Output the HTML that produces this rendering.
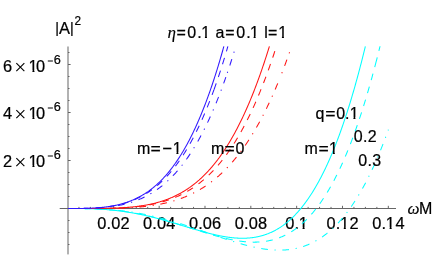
<!DOCTYPE html>
<html><head><meta charset="utf-8"><title>plot</title>
<style>
html,body{margin:0;padding:0;background:#fff;}
svg{display:block;font-family:"Liberation Sans",sans-serif;}
</style></head>
<body>
<svg width="436" height="270" viewBox="0 0 436 270">
<defs>
<clipPath id="c0"><path d="M297.75 210.96H315.15V227.00H304.62V230H302.57V227.00H297.75Z"/></clipPath>
<clipPath id="c1"><path d="M338.96 210.96H356.36V227.00H345.83V230H343.78V227.00H338.96Z"/></clipPath>
<clipPath id="c2"><path d="M384.79 210.96H402.19V227.00H391.66V230H389.61V227.00H384.79Z"/></clipPath>
<clipPath id="c3"><path d="M27.60 53.96H45.00V70.00H34.47V73H32.42V70.00H27.60Z"/></clipPath>
<clipPath id="c4"><path d="M27.60 100.96H45.00V117.00H34.47V120H32.42V117.00H27.60Z"/></clipPath>
<clipPath id="c5"><path d="M27.60 148.96H45.00V165.00H34.47V168H32.42V165.00H27.60Z"/></clipPath>
<clipPath id="c6"><path d="M348.70 101.40H365.70V117.00H355.44V120H353.42V117.00H348.70Z"/></clipPath>
<clipPath id="c7"><path d="M171.70 136.40H188.70V152.00H178.44V155H176.42V152.00H171.70Z"/></clipPath>
<clipPath id="c8"><path d="M328.10 136.40H345.10V152.00H334.84V155H332.82V152.00H328.10Z"/></clipPath>
<clipPath id="c9"><path d="M200.20 20.40H217.20V36.00H206.94V39H204.92V36.00H200.20Z"/></clipPath>
<clipPath id="c10"><path d="M248.90 20.40H265.90V36.00H255.64V39H253.62V36.00H248.90Z"/></clipPath>
<clipPath id="c11"><path d="M277.20 20.40H294.20V36.00H283.94V39H281.92V36.00H277.20Z"/></clipPath>
</defs>
<rect width="436" height="270" fill="#ffffff"/>
<g>
<rect x="59.7" y="208" width="336.3" height="1" fill="#666"/>
<rect x="67.5" y="46.5" width="1" height="207.9" fill="#666"/>
<rect x="78.46" y="206.9" width="1" height="1.6" fill="#666"/>
<rect x="89.91" y="206.9" width="1" height="1.6" fill="#666"/>
<rect x="101.37" y="206.9" width="1" height="1.6" fill="#666"/>
<rect x="112.83" y="205.8" width="1" height="2.7" fill="#666"/>
<rect x="124.29" y="206.9" width="1" height="1.6" fill="#666"/>
<rect x="135.75" y="206.9" width="1" height="1.6" fill="#666"/>
<rect x="147.20" y="206.9" width="1" height="1.6" fill="#666"/>
<rect x="158.66" y="205.8" width="1" height="2.7" fill="#666"/>
<rect x="170.12" y="206.9" width="1" height="1.6" fill="#666"/>
<rect x="181.57" y="206.9" width="1" height="1.6" fill="#666"/>
<rect x="193.03" y="206.9" width="1" height="1.6" fill="#666"/>
<rect x="204.49" y="205.8" width="1" height="2.7" fill="#666"/>
<rect x="215.95" y="206.9" width="1" height="1.6" fill="#666"/>
<rect x="227.41" y="206.9" width="1" height="1.6" fill="#666"/>
<rect x="238.86" y="206.9" width="1" height="1.6" fill="#666"/>
<rect x="250.32" y="205.8" width="1" height="2.7" fill="#666"/>
<rect x="261.78" y="206.9" width="1" height="1.6" fill="#666"/>
<rect x="273.24" y="206.9" width="1" height="1.6" fill="#666"/>
<rect x="284.69" y="206.9" width="1" height="1.6" fill="#666"/>
<rect x="296.15" y="205.8" width="1" height="2.7" fill="#666"/>
<rect x="307.61" y="206.9" width="1" height="1.6" fill="#666"/>
<rect x="319.06" y="206.9" width="1" height="1.6" fill="#666"/>
<rect x="330.52" y="206.9" width="1" height="1.6" fill="#666"/>
<rect x="341.98" y="205.8" width="1" height="2.7" fill="#666"/>
<rect x="353.44" y="206.9" width="1" height="1.6" fill="#666"/>
<rect x="364.89" y="206.9" width="1" height="1.6" fill="#666"/>
<rect x="376.35" y="206.9" width="1" height="1.6" fill="#666"/>
<rect x="387.81" y="205.8" width="1" height="2.7" fill="#666"/>
<rect x="68" y="244.00" width="1.5" height="1" fill="#666"/>
<rect x="68" y="232.00" width="1.5" height="1" fill="#666"/>
<rect x="68" y="220.00" width="1.5" height="1" fill="#666"/>
<rect x="68" y="196.00" width="1.5" height="1" fill="#666"/>
<rect x="68" y="184.00" width="1.5" height="1" fill="#666"/>
<rect x="68" y="172.00" width="1.5" height="1" fill="#666"/>
<rect x="68" y="160.00" width="2.6" height="1" fill="#666"/>
<rect x="68" y="148.00" width="1.5" height="1" fill="#666"/>
<rect x="68" y="136.00" width="1.5" height="1" fill="#666"/>
<rect x="68" y="124.00" width="1.5" height="1" fill="#666"/>
<rect x="68" y="112.00" width="2.6" height="1" fill="#666"/>
<rect x="68" y="100.00" width="1.5" height="1" fill="#666"/>
<rect x="68" y="88.00" width="1.5" height="1" fill="#666"/>
<rect x="68" y="76.00" width="1.5" height="1" fill="#666"/>
<rect x="68" y="64.00" width="2.6" height="1" fill="#666"/>
<rect x="68" y="52.00" width="1.5" height="1" fill="#666"/>
</g>
<g fill="#000" stroke="#000" stroke-width="0.22" style="will-change:transform">
<text x="97.29 106.53 111.21 120.45" y="229" font-size="16.4" transform="matrix(1 0 0 1.035 0 -8.015)">0.02</text>
<text x="143.12 152.36 157.04 166.28" y="229" font-size="16.4" transform="matrix(1 0 0 1.035 0 -8.015)">0.04</text>
<text x="188.95 198.19 202.87 212.11" y="229" font-size="16.4" transform="matrix(1 0 0 1.035 0 -8.015)">0.06</text>
<text x="234.78 244.02 248.70 257.94" y="229" font-size="16.4" transform="matrix(1 0 0 1.035 0 -8.015)">0.08</text>
<text x="285.23 294.47" y="229" font-size="16.4" transform="matrix(1 0 0 1.035 0 -8.015)">0.</text>
<g clip-path="url(#c0)"><text x="298.75" y="229.0" font-size="16.4" transform="matrix(1 0 0 1.035 0 -8.015)">1</text></g>
<text x="326.44 335.68 349.60" y="229" font-size="16.4" transform="matrix(1 0 0 1.035 0 -8.015)">0.2</text>
<g clip-path="url(#c1)"><text x="339.96" y="229.0" font-size="16.4" transform="matrix(1 0 0 1.035 0 -8.015)">1</text></g>
<text x="372.27 381.51 395.43" y="229" font-size="16.4" transform="matrix(1 0 0 1.035 0 -8.015)">0.4</text>
<g clip-path="url(#c2)"><text x="385.79" y="229.0" font-size="16.4" transform="matrix(1 0 0 1.035 0 -8.015)">1</text></g>
<text x="3.00" y="72" font-size="16.4" transform="matrix(1 0 0 1.035 0 -2.520)">6</text>
<path d="M16.35 63.20L24.35 71.20M16.35 71.20L24.35 63.20" stroke="#000" stroke-width="1.1" fill="none"/>
<text x="36.00" y="72" font-size="16.4" transform="matrix(1 0 0 1.035 0 -2.520)">0</text>
<g clip-path="url(#c3)"><text x="28.60" y="72.0" font-size="16.4" transform="matrix(1 0 0 1.035 0 -2.520)">1</text></g>
<rect x="47.8" y="60.50" width="5.1" height="1" fill="#000" stroke="none"/>
<text x="53.70" y="64" font-size="12.7" transform="matrix(1 0 0 1.035 0 -2.240)">6</text>
<text x="3.00" y="119" font-size="16.4" transform="matrix(1 0 0 1.035 0 -4.165)">4</text>
<path d="M16.35 110.20L24.35 118.20M16.35 118.20L24.35 110.20" stroke="#000" stroke-width="1.1" fill="none"/>
<text x="36.00" y="119" font-size="16.4" transform="matrix(1 0 0 1.035 0 -4.165)">0</text>
<g clip-path="url(#c4)"><text x="28.60" y="119.0" font-size="16.4" transform="matrix(1 0 0 1.035 0 -4.165)">1</text></g>
<rect x="47.8" y="107.50" width="5.1" height="1" fill="#000" stroke="none"/>
<text x="53.70" y="111" font-size="12.7" transform="matrix(1 0 0 1.035 0 -3.885)">6</text>
<text x="3.00" y="167" font-size="16.4" transform="matrix(1 0 0 1.035 0 -5.845)">2</text>
<path d="M16.35 158.20L24.35 166.20M16.35 166.20L24.35 158.20" stroke="#000" stroke-width="1.1" fill="none"/>
<text x="36.00" y="167" font-size="16.4" transform="matrix(1 0 0 1.035 0 -5.845)">0</text>
<g clip-path="url(#c5)"><text x="28.60" y="167.0" font-size="16.4" transform="matrix(1 0 0 1.035 0 -5.845)">1</text></g>
<rect x="47.8" y="155.50" width="5.1" height="1" fill="#000" stroke="none"/>
<text x="53.70" y="159" font-size="12.7" transform="matrix(1 0 0 1.035 0 -5.565)">6</text>
</g>
<g fill="none" stroke-width="1.05" stroke-linecap="butt" stroke-linejoin="round">
<path d="M68.00 208.50 L68.50 208.50 L69.00 208.50 L69.50 208.50 L70.00 208.50 L70.50 208.50 L71.00 208.50 L71.50 208.50 L72.00 208.50 L72.50 208.50 L73.00 208.50 L73.50 208.50 L74.00 208.51 L74.50 208.51 L75.00 208.51 L75.50 208.51 L76.00 208.51 L76.50 208.52 L77.00 208.52 L77.50 208.52 L78.00 208.53 L78.50 208.53 L79.00 208.53 L79.50 208.54 L80.00 208.54 L80.50 208.55 L81.00 208.55 L81.50 208.56 L82.00 208.56 L82.50 208.57 L83.00 208.58 L83.50 208.59 L84.00 208.59 L84.50 208.60 L85.00 208.61 L85.50 208.62 L86.00 208.63 L86.50 208.64 L87.00 208.65 L87.50 208.66 L88.00 208.68 L88.50 208.69 L89.00 208.70 L89.50 208.72 L90.00 208.73 L90.50 208.75 L91.00 208.76 L91.50 208.78 L92.00 208.80 L92.50 208.81 L93.00 208.83 L93.50 208.85 L94.00 208.87 L94.50 208.89 L95.00 208.91 L95.50 208.93 L96.00 208.96 L96.50 208.98 L97.00 209.00 L97.50 209.03 L98.00 209.05 L98.50 209.08 L99.00 209.11 L99.50 209.13 L100.00 209.16 L100.50 209.19 L101.00 209.22 L101.50 209.25 L102.00 209.28 L102.50 209.31 L103.00 209.35 L103.50 209.38 L104.00 209.42 L104.50 209.45 L105.00 209.49 L105.50 209.53 L106.00 209.56 L106.50 209.60 L107.00 209.64 L107.50 209.68 L108.00 209.73 L108.50 209.77 L109.00 209.81 L109.50 209.86 L110.00 209.90 L110.50 209.95 L111.00 209.99 L111.50 210.04 L112.00 210.09 L112.50 210.14 L113.00 210.19 L113.50 210.24 L114.00 210.30 L114.50 210.35 L115.00 210.40 L115.50 210.46 L116.00 210.52 L116.50 210.57 L117.00 210.63 L117.50 210.69 L118.00 210.75 L118.50 210.81 L119.00 210.87 L119.50 210.94 L120.00 211.00 L120.50 211.07 L121.00 211.13 L121.50 211.20 L122.00 211.27 L122.50 211.33 L123.00 211.40 L123.50 211.47 L124.00 211.55 L124.50 211.62 L125.00 211.69 L125.50 211.77 L126.00 211.84 L126.50 211.92 L127.00 212.00 L127.50 212.08 L128.00 212.15 L128.50 212.24 L129.00 212.32 L129.50 212.40 L130.00 212.48 L130.50 212.57 L131.00 212.65 L131.50 212.74 L132.00 212.82 L132.50 212.91 L133.00 213.00 L133.50 213.09 L134.00 213.18 L134.50 213.27 L135.00 213.37 L135.50 213.46 L136.00 213.56 L136.50 213.65 L137.00 213.75 L137.50 213.85 L138.00 213.94 L138.50 214.04 L139.00 214.14 L139.50 214.25 L140.00 214.35 L140.50 214.45 L141.00 214.55 L141.50 214.66 L142.00 214.77 L142.50 214.87 L143.00 214.98 L143.50 215.09 L144.00 215.20 L144.50 215.31 L145.00 215.42 L145.50 215.53 L146.00 215.64 L146.50 215.76 L147.00 215.87 L147.50 215.99 L148.00 216.10 L148.50 216.22 L149.00 216.34 L149.50 216.46 L150.00 216.58 L150.50 216.70 L151.00 216.82 L151.50 216.94 L152.00 217.06 L152.50 217.19 L153.00 217.31 L153.50 217.44 L154.00 217.56 L154.50 217.69 L155.00 217.81 L155.50 217.94 L156.00 218.07 L156.50 218.20 L157.00 218.33 L157.50 218.46 L158.00 218.59 L158.50 218.72 L159.00 218.86 L159.50 218.99 L160.00 219.13 L160.50 219.26 L161.00 219.40 L161.50 219.53 L162.00 219.67 L162.50 219.80 L163.00 219.94 L163.50 220.08 L164.00 220.22 L164.50 220.36 L165.00 220.50 L165.50 220.64 L166.00 220.78 L166.50 220.92 L167.00 221.06 L167.50 221.21 L168.00 221.35 L168.50 221.49 L169.00 221.64 L169.50 221.78 L170.00 221.93 L170.50 222.07 L171.00 222.22 L171.50 222.36 L172.00 222.51 L172.50 222.66 L173.00 222.80 L173.50 222.95 L174.00 223.10 L174.50 223.25 L175.00 223.39 L175.50 223.54 L176.00 223.69 L176.50 223.84 L177.00 223.99 L177.50 224.14 L178.00 224.29 L178.50 224.44 L179.00 224.59 L179.50 224.74 L180.00 224.89 L180.50 225.04 L181.00 225.19 L181.50 225.34 L182.00 225.49 L182.50 225.64 L183.00 225.80 L183.50 225.95 L184.00 226.10 L184.50 226.25 L185.00 226.40 L185.50 226.55 L186.00 226.70 L186.50 226.85 L187.00 227.00 L187.50 227.15 L188.00 227.30 L188.50 227.45 L189.00 227.61 L189.50 227.76 L190.00 227.91 L190.50 228.06 L191.00 228.20 L191.50 228.35 L192.00 228.50 L192.50 228.65 L193.00 228.80 L193.50 228.95 L194.00 229.10 L194.50 229.24 L195.00 229.39 L195.50 229.54 L196.00 229.68 L196.50 229.83 L197.00 229.97 L197.50 230.12 L198.00 230.26 L198.50 230.41 L199.00 230.55 L199.50 230.69 L200.00 230.84 L200.50 230.98 L201.00 231.12 L201.50 231.26 L202.00 231.40 L202.50 231.54 L203.00 231.68 L203.50 231.81 L204.00 231.95 L204.50 232.09 L205.00 232.22 L205.50 232.36 L206.00 232.49 L206.50 232.62 L207.00 232.75 L207.50 232.88 L208.00 233.01 L208.50 233.14 L209.00 233.27 L209.50 233.40 L210.00 233.52 L210.50 233.65 L211.00 233.77 L211.50 233.90 L212.00 234.02 L212.50 234.14 L213.00 234.26 L213.50 234.38 L214.00 234.49 L214.50 234.61 L215.00 234.72 L215.50 234.84 L216.00 234.95 L216.50 235.06 L217.00 235.17 L217.50 235.27 L218.00 235.38 L218.50 235.49 L219.00 235.59 L219.50 235.69 L220.00 235.79 L220.50 235.89 L221.00 235.99 L221.50 236.08 L222.00 236.18 L222.50 236.27 L223.00 236.36 L223.50 236.45 L224.00 236.53 L224.50 236.62 L225.00 236.70 L225.50 236.78 L226.00 236.86 L226.50 236.94 L227.00 237.02 L227.50 237.09 L228.00 237.16 L228.50 237.23 L229.00 237.30 L229.50 237.37 L230.00 237.43 L230.50 237.49 L231.00 237.55 L231.50 237.61 L232.00 237.66 L232.50 237.72 L233.00 237.77 L233.50 237.81 L234.00 237.86 L234.50 237.90 L235.00 237.94 L235.50 237.98 L236.00 238.02 L236.50 238.05 L237.00 238.08 L237.50 238.11 L238.00 238.14 L238.50 238.16 L239.00 238.18 L239.50 238.20 L240.00 238.22 L240.50 238.23 L241.00 238.24 L241.50 238.25 L242.00 238.25 L242.50 238.25 L243.00 238.25 L243.50 238.25 L244.00 238.24 L244.50 238.23 L245.00 238.21 L245.50 238.20 L246.00 238.18 L246.50 238.15 L247.00 238.13 L247.50 238.10 L248.00 238.07 L248.50 238.03 L249.00 237.99 L249.50 237.95 L250.00 237.90 L250.50 237.85 L251.00 237.80 L251.50 237.74 L252.00 237.68 L252.50 237.62 L253.00 237.55 L253.50 237.48 L254.00 237.41 L254.50 237.33 L255.00 237.25 L255.50 237.16 L256.00 237.07 L256.50 236.98 L257.00 236.88 L257.50 236.78 L258.00 236.67 L258.50 236.56 L259.00 236.45 L259.50 236.33 L260.00 236.21 L260.50 236.09 L261.00 235.96 L261.50 235.82 L262.00 235.68 L262.50 235.54 L263.00 235.39 L263.50 235.24 L264.00 235.09 L264.50 234.93 L265.00 234.76 L265.50 234.59 L266.00 234.42 L266.50 234.24 L267.00 234.06 L267.50 233.87 L268.00 233.67 L268.50 233.48 L269.00 233.27 L269.50 233.07 L270.00 232.85 L270.50 232.64 L271.00 232.42 L271.50 232.19 L272.00 231.96 L272.50 231.72 L273.00 231.48 L273.50 231.23 L274.00 230.97 L274.50 230.72 L275.00 230.45 L275.50 230.18 L276.00 229.91 L276.50 229.63 L277.00 229.34 L277.50 229.05 L278.00 228.75 L278.50 228.45 L279.00 228.14 L279.50 227.83 L280.00 227.51 L280.50 227.19 L281.00 226.85 L281.50 226.52 L282.00 226.17 L282.50 225.83 L283.00 225.47 L283.50 225.11 L284.00 224.74 L284.50 224.37 L285.00 223.99 L285.50 223.60 L286.00 223.21 L286.50 222.81 L287.00 222.41 L287.50 222.00 L288.00 221.58 L288.50 221.15 L289.00 220.72 L289.50 220.28 L290.00 219.84 L290.50 219.39 L291.00 218.93 L291.50 218.47 L292.00 218.00 L292.50 217.52 L293.00 217.03 L293.50 216.54 L294.00 216.04 L294.50 215.53 L295.00 215.02 L295.50 214.50 L296.00 213.97 L296.50 213.44 L297.00 212.89 L297.50 212.34 L298.00 211.79 L298.50 211.22 L299.00 210.65 L299.50 210.07 L300.00 209.48 L300.50 208.88 L301.00 208.28 L301.50 207.67 L302.00 207.05 L302.50 206.43 L303.00 205.79 L303.50 205.15 L304.00 204.50 L304.50 203.84 L305.00 203.17 L305.50 202.50 L306.00 201.81 L306.50 201.12 L307.00 200.42 L307.50 199.71 L308.00 199.00 L308.50 198.27 L309.00 197.54 L309.50 196.80 L310.00 196.04 L310.50 195.28 L311.00 194.52 L311.50 193.74 L312.00 192.95 L312.50 192.16 L313.00 191.35 L313.50 190.54 L314.00 189.72 L314.50 188.89 L315.00 188.05 L315.50 187.20 L316.00 186.34 L316.50 185.47 L317.00 184.59 L317.50 183.70 L318.00 182.81 L318.50 181.90 L319.00 180.99 L319.50 180.06 L320.00 179.12 L320.50 178.18 L321.00 177.22 L321.50 176.26 L322.00 175.28 L322.50 174.30 L323.00 173.30 L323.50 172.30 L324.00 171.28 L324.50 170.26 L325.00 169.22 L325.50 168.18 L326.00 167.12 L326.50 166.05 L327.00 164.98 L327.50 163.89 L328.00 162.79 L328.50 161.68 L329.00 160.56 L329.50 159.43 L330.00 158.29 L330.50 157.14 L331.00 155.97 L331.50 154.80 L332.00 153.61 L332.50 152.41 L333.00 151.21 L333.50 149.99 L334.00 148.76 L334.50 147.51 L335.00 146.26 L335.50 145.00 L336.00 143.72 L336.50 142.43 L337.00 141.13 L337.50 139.82 L338.00 138.50 L338.50 137.16 L339.00 135.81 L339.50 134.45 L340.00 133.08 L340.50 131.70 L341.00 130.30 L341.50 128.89 L342.00 127.47 L342.50 126.04 L343.00 124.60 L343.50 123.14 L344.00 121.67 L344.50 120.19 L345.00 118.69 L345.50 117.18 L346.00 115.66 L346.50 114.13 L347.00 112.58 L347.50 111.02 L348.00 109.45 L348.50 107.86 L349.00 106.26 L349.50 104.65 L350.00 103.03 L350.50 101.39 L351.00 99.74 L351.50 98.07 L352.00 96.39 L352.50 94.70 L353.00 92.99 L353.50 91.27 L354.00 89.54 L354.50 87.79 L355.00 86.03 L355.50 84.25 L356.00 82.46 L356.50 80.66 L357.00 78.84 L357.50 77.01 L358.00 75.16 L358.50 73.30 L359.00 71.42 L359.50 69.53 L360.00 67.63 L360.50 65.71 L361.00 63.77 L361.50 61.82 L362.00 59.86 L362.50 57.88 L363.00 55.88 L363.50 53.88 L364.00 51.85 L364.50 49.81 L365.00 47.76 L365.35 46.30" stroke="#00ffff"/>
<path d="M68.50 208.50 L69.00 208.50 L69.50 208.50 L70.00 208.50 L70.50 208.50 L71.00 208.50 L71.50 208.50 L72.00 208.50 L72.50 208.50 L73.00 208.50 L73.50 208.50 L74.00 208.51 L74.50 208.51 L75.00 208.51 L75.50 208.51 L76.00 208.51 L76.50 208.52 L77.00 208.52 L77.50 208.52 L78.00 208.52 L78.50 208.53 L79.00 208.53 L79.50 208.53 L80.00 208.54 L80.50 208.54 L81.00 208.55 L81.50 208.55 L82.00 208.56 L82.50 208.57 L83.00 208.57 L83.50 208.58 L84.00 208.59 L84.50 208.60 L85.00 208.60 L85.50 208.61 L86.00 208.62 L86.50 208.63 L87.00 208.64 L87.50 208.65 L88.00 208.67 L88.50 208.68 L89.00 208.69 L89.50 208.70 L90.00 208.72 L90.50 208.73 L91.00 208.75 L91.50 208.76 L92.00 208.78 L92.50 208.79 L93.00 208.81 L93.50 208.83 L94.00 208.85 L94.50 208.87 L95.00 208.89 L95.50 208.91 L96.00 208.93 L96.50 208.95 L97.00 208.97 L97.50 209.00 L98.00 209.02 L98.50 209.05 L99.00 209.07 L99.50 209.10 L100.00 209.12 L100.50 209.15 L101.00 209.18 L101.50 209.21 L102.00 209.24 L102.50 209.27 L103.00 209.30 L103.50 209.33 L104.00 209.37 L104.50 209.40 L105.00 209.43 L105.50 209.47 L106.00 209.51 L106.50 209.54 L107.00 209.58 L107.50 209.62 L108.00 209.66 L108.50 209.70 L109.00 209.74 L109.50 209.78 L110.00 209.83 L110.50 209.87 L111.00 209.92 L111.50 209.96 L112.00 210.01 L112.50 210.06 L113.00 210.10 L113.50 210.15 L114.00 210.20 L114.50 210.25 L115.00 210.31 L115.50 210.36 L116.00 210.41 L116.50 210.47 L117.00 210.52 L117.50 210.58 L118.00 210.64 L118.50 210.70 L119.00 210.76 L119.50 210.82 L120.00 210.88 L120.50 210.94 L121.00 211.00 L121.50 211.07 L122.00 211.13 L122.50 211.20 L123.00 211.26 L123.50 211.33 L124.00 211.40 L124.50 211.47 L125.00 211.54 L125.50 211.61 L126.00 211.69 L126.50 211.76 L127.00 211.83 L127.50 211.91 L128.00 211.99 L128.50 212.06 L129.00 212.14 L129.50 212.22 L130.00 212.30 L130.50 212.38 L131.00 212.47 L131.50 212.55 L132.00 212.63 L132.50 212.72 L133.00 212.81 L133.50 212.89 L134.00 212.98 L134.50 213.07 L135.00 213.16 L135.50 213.25 L136.00 213.34 L136.50 213.44 L137.00 213.53 L137.50 213.62 L138.00 213.72 L138.50 213.82 L139.00 213.91 L139.50 214.01 L140.00 214.11 L140.50 214.21 L141.00 214.32 L141.50 214.42 L142.00 214.52 L142.50 214.63 L143.00 214.73 L143.50 214.84 L144.00 214.94 L144.50 215.05 L145.00 215.16 L145.50 215.27 L146.00 215.38 L146.50 215.49 L147.00 215.60 L147.50 215.72 L148.00 215.83 L148.50 215.95 L149.00 216.06 L149.50 216.18 L150.00 216.30 L150.50 216.42 L151.00 216.54 L151.50 216.66 L152.00 216.78 L152.50 216.90 L153.00 217.02 L153.50 217.15 L154.00 217.27 L154.50 217.40 L155.00 217.52 L155.50 217.65 L156.00 217.78 L156.50 217.90 L157.00 218.03 L157.50 218.16 L158.00 218.29 L158.50 218.43 L159.00 218.56 L159.50 218.69 L160.00 218.83 L160.50 218.96 L161.00 219.10 L161.50 219.23 L162.00 219.37 L162.50 219.51 L163.00 219.64 L163.50 219.78 L164.00 219.92 L164.50 220.06 L165.00 220.20 L165.50 220.34 L166.00 220.49 L166.50 220.63 L167.00 220.77 L167.50 220.92 L168.00 221.06 L168.50 221.21 L169.00 221.35 L169.50 221.50 L170.00 221.65 L170.50 221.79 L171.00 221.94 L171.50 222.09 L172.00 222.24 L172.50 222.39 L173.00 222.54 L173.50 222.69 L174.00 222.84 L174.50 222.99 L175.00 223.14 L175.50 223.30 L176.00 223.45 L176.50 223.60 L177.00 223.76 L177.50 223.91 L178.00 224.07 L178.50 224.22 L179.00 224.38 L179.50 224.53 L180.00 224.69 L180.50 224.84 L181.00 225.00 L181.50 225.16 L182.00 225.32 L182.50 225.47 L183.00 225.63 L183.50 225.79 L184.00 225.95 L184.50 226.11 L185.00 226.26 L185.50 226.42 L186.00 226.58 L186.50 226.74 L187.00 226.90 L187.50 227.06 L188.00 227.22 L188.50 227.38 L189.00 227.54 L189.50 227.70 L190.00 227.86 L190.50 228.02 L191.00 228.18 L191.50 228.34 L192.00 228.50 L192.50 228.66 L193.00 228.82 L193.50 228.98 L194.00 229.14 L194.50 229.30 L195.00 229.46 L195.50 229.62 L196.00 229.78 L196.50 229.94 L197.00 230.10 L197.50 230.26 L198.00 230.42 L198.50 230.58 L199.00 230.74 L199.50 230.90 L200.00 231.06 L200.50 231.21 L201.00 231.37 L201.50 231.53 L202.00 231.69 L202.50 231.84 L203.00 232.00 L203.50 232.15 L204.00 232.31 L204.50 232.46 L205.00 232.62 L205.50 232.77 L206.00 232.93 L206.50 233.08 L207.00 233.23 L207.50 233.39 L208.00 233.54 L208.50 233.69 L209.00 233.84 L209.50 233.99 L210.00 234.14 L210.50 234.29 L211.00 234.44 L211.50 234.58 L212.00 234.73 L212.50 234.88 L213.00 235.02 L213.50 235.16 L214.00 235.31 L214.50 235.45 L215.00 235.59 L215.50 235.73 L216.00 235.87 L216.50 236.01 L217.00 236.15 L217.50 236.29 L218.00 236.43 L218.50 236.56 L219.00 236.70 L219.50 236.83 L220.00 236.96 L220.50 237.09 L221.00 237.22 L221.50 237.35 L222.00 237.48 L222.50 237.61 L223.00 237.73 L223.50 237.86 L224.00 237.98 L224.50 238.10 L225.00 238.22 L225.50 238.34 L226.00 238.46 L226.50 238.58 L227.00 238.69 L227.50 238.81 L228.00 238.92 L228.50 239.03 L229.00 239.14 L229.50 239.25 L230.00 239.35 L230.50 239.46 L231.00 239.56 L231.50 239.66 L232.00 239.76 L232.50 239.86 L233.00 239.96 L233.50 240.05 L234.00 240.15 L234.50 240.24 L235.00 240.33 L235.50 240.42 L236.00 240.50 L236.50 240.59 L237.00 240.67 L237.50 240.75 L238.00 240.83 L238.50 240.90 L239.00 240.98 L239.50 241.05 L240.00 241.12 L240.50 241.19 L241.00 241.26 L241.50 241.32 L242.00 241.38 L242.50 241.44 L243.00 241.50 L243.50 241.56 L244.00 241.61 L244.50 241.66 L245.00 241.71 L245.50 241.76 L246.00 241.80 L246.50 241.84 L247.00 241.88 L247.50 241.92 L248.00 241.95 L248.50 241.98 L249.00 242.01 L249.50 242.04 L250.00 242.06 L250.50 242.08 L251.00 242.10 L251.50 242.11 L252.00 242.13 L252.50 242.14 L253.00 242.14 L253.50 242.15 L254.00 242.15 L254.50 242.15 L255.00 242.14 L255.50 242.14 L256.00 242.13 L256.50 242.11 L257.00 242.10 L257.50 242.08 L258.00 242.06 L258.50 242.03 L259.00 242.00 L259.50 241.97 L260.00 241.93 L260.50 241.89 L261.00 241.85 L261.50 241.81 L262.00 241.76 L262.50 241.71 L263.00 241.65 L263.50 241.59 L264.00 241.53 L264.50 241.46 L265.00 241.39 L265.50 241.32 L266.00 241.24 L266.50 241.16 L267.00 241.08 L267.50 240.99 L268.00 240.90 L268.50 240.80 L269.00 240.70 L269.50 240.60 L270.00 240.49 L270.50 240.38 L271.00 240.27 L271.50 240.15 L272.00 240.02 L272.50 239.90 L273.00 239.77 L273.50 239.63 L274.00 239.49 L274.50 239.35 L275.00 239.20 L275.50 239.04 L276.00 238.89 L276.50 238.73 L277.00 238.56 L277.50 238.39 L278.00 238.21 L278.50 238.04 L279.00 237.85 L279.50 237.66 L280.00 237.47 L280.50 237.27 L281.00 237.07 L281.50 236.86 L282.00 236.65 L282.50 236.43 L283.00 236.21 L283.50 235.98 L284.00 235.75 L284.50 235.52 L285.00 235.27 L285.50 235.03 L286.00 234.77 L286.50 234.52 L287.00 234.26 L287.50 233.99 L288.00 233.72 L288.50 233.44 L289.00 233.15 L289.50 232.87 L290.00 232.57 L290.50 232.27 L291.00 231.97 L291.50 231.66 L292.00 231.34 L292.50 231.02 L293.00 230.69 L293.50 230.36 L294.00 230.02 L294.50 229.67 L295.00 229.32 L295.50 228.97 L296.00 228.60 L296.50 228.24 L297.00 227.86 L297.50 227.48 L298.00 227.09 L298.50 226.70 L299.00 226.30 L299.50 225.90 L300.00 225.49 L300.50 225.07 L301.00 224.65 L301.50 224.22 L302.00 223.78 L302.50 223.34 L303.00 222.89 L303.50 222.43 L304.00 221.97 L304.50 221.50 L305.00 221.02 L305.50 220.54 L306.00 220.05 L306.50 219.56 L307.00 219.05 L307.50 218.54 L308.00 218.03 L308.50 217.50 L309.00 216.97 L309.50 216.43 L310.00 215.89 L310.50 215.34 L311.00 214.78 L311.50 214.21 L312.00 213.64 L312.50 213.06 L313.00 212.47 L313.50 211.87 L314.00 211.27 L314.50 210.66 L315.00 210.04 L315.50 209.41 L316.00 208.78 L316.50 208.14 L317.00 207.49 L317.50 206.83 L318.00 206.16 L318.50 205.49 L319.00 204.81 L319.50 204.12 L320.00 203.42 L320.50 202.72 L321.00 202.01 L321.50 201.28 L322.00 200.55 L322.50 199.82 L323.00 199.07 L323.50 198.32 L324.00 197.55 L324.50 196.78 L325.00 196.00 L325.50 195.21 L326.00 194.42 L326.50 193.61 L327.00 192.80 L327.50 191.97 L328.00 191.14 L328.50 190.30 L329.00 189.45 L329.50 188.59 L330.00 187.72 L330.50 186.85 L331.00 185.96 L331.50 185.06 L332.00 184.16 L332.50 183.25 L333.00 182.32 L333.50 181.39 L334.00 180.45 L334.50 179.50 L335.00 178.54 L335.50 177.57 L336.00 176.59 L336.50 175.60 L337.00 174.60 L337.50 173.59 L338.00 172.57 L338.50 171.54 L339.00 170.50 L339.50 169.45 L340.00 168.39 L340.50 167.33 L341.00 166.25 L341.50 165.16 L342.00 164.06 L342.50 162.95 L343.00 161.83 L343.50 160.70 L344.00 159.56 L344.50 158.41 L345.00 157.24 L345.50 156.07 L346.00 154.89 L346.50 153.69 L347.00 152.49 L347.50 151.27 L348.00 150.05 L348.50 148.81 L349.00 147.56 L349.50 146.30 L350.00 145.03 L350.50 143.75 L351.00 142.46 L351.50 141.15 L352.00 139.84 L352.50 138.51 L353.00 137.17 L353.50 135.82 L354.00 134.46 L354.50 133.08 L355.00 131.70 L355.50 130.30 L356.00 128.90 L356.50 127.47 L357.00 126.04 L357.50 124.60 L358.00 123.14 L358.50 121.67 L359.00 120.19 L359.50 118.70 L360.00 117.20 L360.50 115.68 L361.00 114.15 L361.50 112.61 L362.00 111.06 L362.50 109.49 L363.00 107.91 L363.50 106.32 L364.00 104.71 L364.50 103.10 L365.00 101.47 L365.50 99.82 L366.00 98.17 L366.50 96.50 L367.00 94.82 L367.50 93.12 L368.00 91.41 L368.50 89.69 L369.00 87.96 L369.50 86.21 L370.00 84.45 L370.50 82.67 L371.00 80.88 L371.50 79.08 L372.00 77.27 L372.50 75.44 L373.00 73.59 L373.50 71.74 L374.00 69.87 L374.50 67.98 L375.00 66.08 L375.50 64.17 L375.58 63.86 M375.58 63.86 L376.00 62.24 L376.50 60.30 L377.00 58.35 L377.50 56.38 L378.00 54.39 L378.50 52.39 L379.00 50.38 L379.50 48.35 L380.00 46.31 L380.00 46.30" stroke="#00ffff" stroke-dasharray="6.75 6.7"/>
<path d="M68.00 208.50 L68.50 208.50 L69.00 208.50 L69.50 208.50 L70.00 208.50 L70.50 208.50 L71.00 208.50 L71.50 208.50 L72.00 208.50 L72.50 208.50 L73.00 208.50 L73.50 208.50 L74.00 208.50 L74.50 208.51 L75.00 208.51 L75.50 208.51 L76.00 208.51 L76.50 208.51 L77.00 208.51 L77.50 208.52 L78.00 208.52 L78.50 208.52 L79.00 208.53 L79.50 208.53 L80.00 208.53 L80.50 208.54 L81.00 208.54 L81.50 208.55 L82.00 208.55 L82.50 208.56 L83.00 208.56 L83.50 208.57 L84.00 208.58 L84.50 208.58 L85.00 208.59 L85.50 208.60 L86.00 208.61 L86.50 208.61 L87.00 208.62 L87.50 208.63 L88.00 208.64 L88.50 208.65 L89.00 208.66 L89.50 208.67 L90.00 208.69 L90.50 208.70 L91.00 208.71 L91.50 208.72 L92.00 208.74 L92.50 208.75 L93.00 208.77 L93.50 208.78 L94.00 208.80 L94.50 208.82 L95.00 208.83 L95.50 208.85 L96.00 208.87 L96.50 208.89 L97.00 208.91 L97.50 208.93 L98.00 208.95 L98.50 208.97 L99.00 208.99 L99.50 209.01 L100.00 209.04 L100.50 209.06 L101.00 209.09 L101.50 209.11 L102.00 209.14 L102.50 209.16 L103.00 209.19 L103.50 209.22 L104.00 209.25 L104.50 209.28 L105.00 209.31 L105.50 209.34 L106.00 209.37 L106.50 209.40 L107.00 209.44 L107.50 209.47 L108.00 209.50 L108.50 209.54 L109.00 209.58 L109.50 209.61 L110.00 209.65 L110.50 209.69 L111.00 209.73 L111.50 209.77 L112.00 209.81 L112.50 209.85 L113.00 209.89 L113.50 209.94 L114.00 209.98 L114.50 210.02 L115.00 210.07 L115.50 210.12 L116.00 210.16 L116.50 210.21 L117.00 210.26 L117.50 210.31 L118.00 210.36 L118.50 210.41 L119.00 210.47 L119.50 210.52 L120.00 210.57 L120.50 210.63 L121.00 210.69 L121.50 210.74 L122.00 210.80 L122.50 210.86 L123.00 210.92 L123.50 210.98 L124.00 211.04 L124.50 211.10 L125.00 211.16 L125.50 211.23 L126.00 211.29 L126.50 211.36 L127.00 211.43 L127.50 211.49 L128.00 211.56 L128.50 211.63 L129.00 211.70 L129.50 211.77 L130.00 211.84 L130.50 211.92 L131.00 211.99 L131.50 212.07 L132.00 212.14 L132.50 212.22 L133.00 212.30 L133.50 212.37 L134.00 212.45 L134.50 212.53 L135.00 212.62 L135.50 212.70 L136.00 212.78 L136.50 212.86 L137.00 212.95 L137.50 213.04 L138.00 213.12 L138.50 213.21 L139.00 213.30 L139.50 213.39 L140.00 213.48 L140.50 213.57 L141.00 213.66 L141.50 213.76 L142.00 213.85 L142.50 213.95 L143.00 214.04 L143.50 214.14 L144.00 214.24 L144.50 214.34 L145.00 214.44 L145.50 214.54 L146.00 214.64 L146.50 214.74 L147.00 214.84 L147.50 214.95 L148.00 215.05 L148.50 215.16 L149.00 215.27 L149.50 215.37 L150.00 215.48 L150.50 215.59 L151.00 215.70 L151.50 215.82 L152.00 215.93 L152.50 216.04 L153.00 216.16 L153.50 216.27 L154.00 216.39 L154.50 216.50 L155.00 216.62 L155.50 216.74 L156.00 216.86 L156.50 216.98 L157.00 217.10 L157.50 217.22 L158.00 217.35 L158.50 217.47 L159.00 217.60 L159.50 217.72 L160.00 217.85 L160.50 217.97 L161.00 218.10 L161.50 218.23 L162.00 218.36 L162.50 218.49 L163.00 218.62 L163.50 218.76 L164.00 218.89 L164.50 219.02 L165.00 219.16 L165.50 219.29 L166.00 219.43 L166.50 219.57 L167.00 219.70 L167.50 219.84 L168.00 219.98 L168.50 220.12 L169.00 220.26 L169.50 220.40 L170.00 220.55 L170.50 220.69 L171.00 220.83 L171.50 220.98 L172.00 221.12 L172.50 221.27 L173.00 221.41 L173.50 221.56 L174.00 221.71 L174.50 221.86 L175.00 222.01 L175.50 222.16 L176.00 222.31 L176.50 222.46 L177.00 222.61 L177.50 222.76 L178.00 222.92 L178.50 223.07 L179.00 223.23 L179.50 223.38 L180.00 223.54 L180.50 223.69 L181.00 223.85 L181.50 224.01 L182.00 224.17 L182.50 224.32 L183.00 224.48 L183.50 224.64 L184.00 224.80 L184.50 224.96 L185.00 225.13 L185.50 225.29 L186.00 225.45 L186.50 225.61 L187.00 225.78 L187.50 225.94 L188.00 226.11 L188.50 226.27 L189.00 226.44 L189.50 226.60 L190.00 226.77 L190.50 226.93 L191.00 227.10 L191.50 227.27 L192.00 227.44 L192.50 227.60 L193.00 227.77 L193.50 227.94 L194.00 228.11 L194.50 228.28 L195.00 228.45 L195.50 228.62 L196.00 228.79 L196.50 228.96 L197.00 229.13 L197.50 229.31 L198.00 229.48 L198.50 229.65 L199.00 229.82 L199.50 229.99 L200.00 230.17 L200.50 230.34 L201.00 230.51 L201.50 230.69 L202.00 230.86 L202.50 231.03 L203.00 231.21 L203.50 231.38 L204.00 231.56 L204.50 231.73 L205.00 231.90 L205.50 232.08 L206.00 232.25 L206.50 232.43 L207.00 232.60 L207.50 232.78 L208.00 232.95 L208.50 233.13 L209.00 233.30 L209.50 233.48 L210.00 233.65 L210.50 233.83 L211.00 234.00 L211.50 234.17 L212.00 234.35 L212.50 234.52 L213.00 234.70 L213.50 234.87 L214.00 235.05 L214.50 235.22 L215.00 235.39 L215.50 235.57 L216.00 235.74 L216.50 235.91 L217.00 236.09 L217.50 236.26 L218.00 236.43 L218.50 236.60 L219.00 236.78 L219.50 236.95 L220.00 237.12 L220.50 237.29 L221.00 237.46 L221.50 237.63 L222.00 237.80 L222.50 237.97 L223.00 238.14 L223.50 238.31 L224.00 238.48 L224.50 238.64 L225.00 238.81 L225.50 238.98 L226.00 239.15 L226.50 239.31 L227.00 239.48 L227.50 239.64 L228.00 239.81 L228.50 239.97 L229.00 240.13 L229.50 240.29 L230.00 240.46 L230.50 240.62 L231.00 240.78 L231.50 240.94 L232.00 241.10 L232.50 241.26 L233.00 241.41 L233.50 241.57 L234.00 241.73 L234.50 241.88 L235.00 242.04 L235.50 242.19 L236.00 242.34 L236.50 242.50 L237.00 242.65 L237.50 242.80 L238.00 242.95 L238.50 243.10 L239.00 243.24 L239.50 243.39 L240.00 243.54 L240.50 243.68 L241.00 243.82 L241.50 243.97 L242.00 244.11 L242.50 244.25 L243.00 244.39 L243.50 244.53 L244.00 244.66 L244.50 244.80 L245.00 244.93 L245.50 245.07 L246.00 245.20 L246.50 245.33 L247.00 245.46 L247.50 245.59 L248.00 245.72 L248.50 245.84 L249.00 245.97 L249.50 246.09 L250.00 246.21 L250.50 246.33 L251.00 246.45 L251.50 246.57 L252.00 246.68 L252.50 246.80 L253.00 246.91 L253.50 247.02 L254.00 247.13 L254.50 247.24 L255.00 247.35 L255.50 247.45 L256.00 247.56 L256.50 247.66 L257.00 247.76 L257.50 247.86 L258.00 247.95 L258.50 248.05 L259.00 248.14 L259.50 248.23 L260.00 248.32 L260.50 248.41 L261.00 248.50 L261.50 248.58 L262.00 248.66 L262.50 248.74 L263.00 248.82 L263.50 248.90 L264.00 248.97 L264.50 249.05 L265.00 249.12 L265.50 249.18 L266.00 249.25 L266.50 249.31 L267.00 249.38 L267.50 249.44 L268.00 249.49 L268.50 249.55 L269.00 249.60 L269.50 249.65 L270.00 249.70 L270.50 249.75 L271.00 249.79 L271.50 249.83 L272.00 249.87 L272.50 249.91 L273.00 249.94 L273.50 249.97 L274.00 250.00 L274.50 250.03 L275.00 250.05 L275.50 250.08 L276.00 250.09 L276.50 250.11 L277.00 250.13 L277.50 250.14 L278.00 250.14 L278.50 250.15 L279.00 250.15 L279.50 250.15 L280.00 250.15 L280.50 250.15 L281.00 250.14 L281.50 250.13 L282.00 250.11 L282.50 250.10 L283.00 250.08 L283.50 250.05 L284.00 250.03 L284.50 250.00 L285.00 249.97 L285.50 249.93 L286.00 249.89 L286.50 249.85 L287.00 249.81 L287.50 249.76 L288.00 249.71 L288.50 249.66 L289.00 249.60 L289.50 249.54 L290.00 249.47 L290.50 249.41 L291.00 249.33 L291.50 249.26 L292.00 249.18 L292.50 249.10 L293.00 249.02 L293.50 248.93 L294.00 248.84 L294.50 248.74 L295.00 248.64 L295.50 248.54 L296.00 248.43 L296.50 248.32 L297.00 248.21 L297.50 248.09 L298.00 247.97 L298.50 247.85 L299.00 247.72 L299.50 247.58 L300.00 247.45 L300.50 247.31 L301.00 247.16 L301.50 247.01 L302.00 246.86 L302.50 246.70 L303.00 246.54 L303.50 246.38 L304.00 246.21 L304.50 246.03 L305.00 245.86 L305.50 245.67 L306.00 245.49 L306.50 245.30 L307.00 245.10 L307.50 244.90 L308.00 244.70 L308.50 244.49 L309.00 244.28 L309.50 244.06 L310.00 243.84 L310.50 243.61 L311.00 243.38 L311.50 243.15 L312.00 242.91 L312.50 242.66 L313.00 242.41 L313.50 242.16 L314.00 241.90 L314.50 241.63 L315.00 241.36 L315.50 241.09 L316.00 240.81 L316.50 240.53 L317.00 240.24 L317.50 239.95 L318.00 239.65 L318.50 239.34 L319.00 239.03 L319.50 238.72 L320.00 238.40 L320.50 238.08 L321.00 237.75 L321.50 237.41 L322.00 237.07 L322.50 236.73 L323.00 236.37 L323.50 236.02 L324.00 235.66 L324.50 235.29 L325.00 234.91 L325.50 234.54 L326.00 234.15 L326.50 233.76 L327.00 233.37 L327.50 232.96 L328.00 232.56 L328.50 232.14 L329.00 231.73 L329.50 231.30 L330.00 230.87 L330.50 230.43 L331.00 229.99 L331.50 229.54 L332.00 229.09 L332.50 228.63 L333.00 228.16 L333.50 227.69 L334.00 227.21 L334.50 226.73 L335.00 226.23 L335.50 225.74 L336.00 225.23 L336.50 224.72 L337.00 224.21 L337.50 223.68 L338.00 223.15 L338.50 222.62 L339.00 222.07 L339.50 221.52 L340.00 220.97 L340.50 220.41 L341.00 219.84 L341.50 219.26 L342.00 218.68 L342.50 218.09 L343.00 217.49 L343.50 216.89 L344.00 216.28 L344.50 215.66 L345.00 215.04 L345.50 214.41 L346.00 213.77 L346.50 213.12 L347.00 212.47 L347.50 211.81 L348.00 211.14 L348.50 210.47 L349.00 209.79 L349.50 209.10 L350.00 208.40 L350.50 207.70 L351.00 206.99 L351.50 206.27 L352.00 205.54 L352.50 204.81 L353.00 204.07 L353.50 203.32 L354.00 202.56 L354.50 201.80 L355.00 201.03 L355.50 200.24 L356.00 199.46 L356.50 198.66 L357.00 197.86 L357.50 197.05 L358.00 196.23 L358.50 195.40 L359.00 194.56 L359.50 193.72 L360.00 192.86 L360.50 192.00 L361.00 191.14 L361.50 190.26 L362.00 189.37 L362.50 188.48 L363.00 187.58 L363.50 186.67 L364.00 185.75 L364.50 184.82 L365.00 183.88 L365.50 182.94 L366.00 181.98 L366.50 181.02 L367.00 180.05 L367.50 179.07 L368.00 178.08 L368.50 177.08 L369.00 176.07 L369.50 175.06 L370.00 174.03 L370.50 173.00 L371.00 171.95 L371.50 170.90 L372.00 169.84 L372.50 168.77 L373.00 167.69 L373.50 166.60 L374.00 165.50 L374.50 164.39 L375.00 163.28 L375.50 162.15 L376.00 161.01 L376.50 159.86 L377.00 158.71 L377.50 157.54 L378.00 156.37 L378.50 155.18 L379.00 153.99 L379.50 152.78 L380.00 151.57 L380.50 150.34 L381.00 149.11 L381.50 147.86 L382.00 146.61 L382.50 145.34 L383.00 144.07 L383.50 142.78 L384.00 141.49 L384.50 140.18 L385.00 138.86 L385.50 137.54 L386.00 136.20 L386.50 134.85 L387.00 133.49 L387.50 132.12 L388.00 130.74 L388.40 129.63" stroke="#00ffff" stroke-dasharray="1.2 6.65 6.7 6.65"/>
<path d="M68.00 208.50 L68.50 208.50 L69.00 208.50 L69.50 208.50 L70.00 208.50 L70.50 208.50 L71.00 208.50 L71.50 208.50 L72.00 208.50 L72.50 208.50 L73.00 208.50 L73.50 208.50 L74.00 208.50 L74.50 208.50 L75.00 208.50 L75.50 208.50 L76.00 208.50 L76.50 208.50 L77.00 208.50 L77.50 208.50 L78.00 208.50 L78.50 208.50 L79.00 208.50 L79.50 208.50 L80.00 208.50 L80.50 208.50 L81.00 208.50 L81.50 208.50 L82.00 208.50 L82.50 208.50 L83.00 208.50 L83.50 208.50 L84.00 208.50 L84.50 208.50 L85.00 208.50 L85.50 208.50 L86.00 208.49 L86.50 208.49 L87.00 208.49 L87.50 208.49 L88.00 208.49 L88.50 208.49 L89.00 208.49 L89.50 208.49 L90.00 208.48 L90.50 208.48 L91.00 208.48 L91.50 208.48 L92.00 208.48 L92.50 208.48 L93.00 208.47 L93.50 208.47 L94.00 208.47 L94.50 208.46 L95.00 208.46 L95.50 208.46 L96.00 208.46 L96.50 208.45 L97.00 208.45 L97.50 208.44 L98.00 208.44 L98.50 208.43 L99.00 208.43 L99.50 208.42 L100.00 208.42 L100.50 208.41 L101.00 208.41 L101.50 208.40 L102.00 208.40 L102.50 208.39 L103.00 208.38 L103.50 208.37 L104.00 208.37 L104.50 208.36 L105.00 208.35 L105.50 208.34 L106.00 208.33 L106.50 208.32 L107.00 208.31 L107.50 208.30 L108.00 208.29 L108.50 208.28 L109.00 208.27 L109.50 208.25 L110.00 208.24 L110.50 208.23 L111.00 208.21 L111.50 208.20 L112.00 208.18 L112.50 208.17 L113.00 208.15 L113.50 208.14 L114.00 208.12 L114.50 208.10 L115.00 208.08 L115.50 208.06 L116.00 208.04 L116.50 208.02 L117.00 208.00 L117.50 207.98 L118.00 207.96 L118.50 207.94 L119.00 207.91 L119.50 207.89 L120.00 207.86 L120.50 207.84 L121.00 207.81 L121.50 207.78 L122.00 207.75 L122.50 207.73 L123.00 207.70 L123.50 207.66 L124.00 207.63 L124.50 207.60 L125.00 207.57 L125.50 207.53 L126.00 207.50 L126.50 207.46 L127.00 207.42 L127.50 207.38 L128.00 207.34 L128.50 207.30 L129.00 207.26 L129.50 207.22 L130.00 207.18 L130.50 207.13 L131.00 207.09 L131.50 207.04 L132.00 206.99 L132.50 206.94 L133.00 206.89 L133.50 206.84 L134.00 206.78 L134.50 206.73 L135.00 206.67 L135.50 206.62 L136.00 206.56 L136.50 206.50 L137.00 206.44 L137.50 206.38 L138.00 206.31 L138.50 206.25 L139.00 206.18 L139.50 206.11 L140.00 206.04 L140.50 205.97 L141.00 205.90 L141.50 205.82 L142.00 205.75 L142.50 205.67 L143.00 205.59 L143.50 205.51 L144.00 205.43 L144.50 205.35 L145.00 205.26 L145.50 205.17 L146.00 205.08 L146.50 204.99 L147.00 204.90 L147.50 204.81 L148.00 204.71 L148.50 204.61 L149.00 204.51 L149.50 204.41 L150.00 204.30 L150.50 204.20 L151.00 204.09 L151.50 203.98 L152.00 203.87 L152.50 203.75 L153.00 203.64 L153.50 203.52 L154.00 203.40 L154.50 203.28 L155.00 203.15 L155.50 203.02 L156.00 202.89 L156.50 202.76 L157.00 202.63 L157.50 202.49 L158.00 202.35 L158.50 202.21 L159.00 202.07 L159.50 201.92 L160.00 201.78 L160.50 201.62 L161.00 201.47 L161.50 201.32 L162.00 201.16 L162.50 201.00 L163.00 200.83 L163.50 200.67 L164.00 200.50 L164.50 200.32 L165.00 200.15 L165.50 199.97 L166.00 199.79 L166.50 199.61 L167.00 199.42 L167.50 199.24 L168.00 199.04 L168.50 198.85 L169.00 198.65 L169.50 198.45 L170.00 198.25 L170.50 198.04 L171.00 197.83 L171.50 197.62 L172.00 197.40 L172.50 197.18 L173.00 196.96 L173.50 196.73 L174.00 196.50 L174.50 196.27 L175.00 196.04 L175.50 195.80 L176.00 195.55 L176.50 195.31 L177.00 195.06 L177.50 194.81 L178.00 194.55 L178.50 194.29 L179.00 194.02 L179.50 193.76 L180.00 193.49 L180.50 193.21 L181.00 192.93 L181.50 192.65 L182.00 192.36 L182.50 192.07 L183.00 191.78 L183.50 191.48 L184.00 191.18 L184.50 190.87 L185.00 190.56 L185.50 190.25 L186.00 189.93 L186.50 189.61 L187.00 189.28 L187.50 188.95 L188.00 188.62 L188.50 188.28 L189.00 187.93 L189.50 187.59 L190.00 187.23 L190.50 186.88 L191.00 186.51 L191.50 186.15 L192.00 185.78 L192.50 185.40 L193.00 185.02 L193.50 184.64 L194.00 184.25 L194.50 183.86 L195.00 183.46 L195.50 183.06 L196.00 182.65 L196.50 182.24 L197.00 181.82 L197.50 181.40 L198.00 180.97 L198.50 180.53 L199.00 180.10 L199.50 179.65 L200.00 179.21 L200.50 178.75 L201.00 178.29 L201.50 177.83 L202.00 177.36 L202.50 176.89 L203.00 176.41 L203.50 175.92 L204.00 175.43 L204.50 174.93 L205.00 174.43 L205.50 173.92 L206.00 173.41 L206.50 172.89 L207.00 172.37 L207.50 171.84 L208.00 171.30 L208.50 170.76 L209.00 170.21 L209.50 169.66 L210.00 169.10 L210.50 168.53 L211.00 167.96 L211.50 167.38 L212.00 166.80 L212.50 166.21 L213.00 165.61 L213.50 165.01 L214.00 164.40 L214.50 163.78 L215.00 163.16 L215.50 162.53 L216.00 161.90 L216.50 161.25 L217.00 160.61 L217.50 159.95 L218.00 159.29 L218.50 158.62 L219.00 157.94 L219.50 157.26 L220.00 156.57 L220.50 155.88 L221.00 155.18 L221.50 154.47 L222.00 153.75 L222.50 153.02 L223.00 152.29 L223.50 151.56 L224.00 150.81 L224.50 150.06 L225.00 149.30 L225.50 148.53 L226.00 147.75 L226.50 146.97 L227.00 146.18 L227.50 145.38 L228.00 144.58 L228.50 143.77 L229.00 142.95 L229.50 142.12 L230.00 141.28 L230.50 140.44 L231.00 139.58 L231.50 138.72 L232.00 137.86 L232.50 136.98 L233.00 136.10 L233.50 135.20 L234.00 134.30 L234.50 133.39 L235.00 132.48 L235.50 131.55 L236.00 130.62 L236.50 129.67 L237.00 128.72 L237.50 127.76 L238.00 126.80 L238.50 125.82 L239.00 124.83 L239.50 123.84 L240.00 122.84 L240.50 121.82 L241.00 120.80 L241.50 119.77 L242.00 118.73 L242.50 117.69 L243.00 116.63 L243.50 115.56 L244.00 114.49 L244.50 113.40 L245.00 112.31 L245.50 111.20 L246.00 110.09 L246.50 108.97 L247.00 107.83 L247.50 106.69 L248.00 105.54 L248.50 104.38 L249.00 103.21 L249.50 102.02 L250.00 100.83 L250.50 99.63 L251.00 98.42 L251.50 97.20 L252.00 95.97 L252.50 94.73 L253.00 93.48 L253.50 92.21 L254.00 90.94 L254.50 89.66 L255.00 88.36 L255.50 87.06 L256.00 85.75 L256.50 84.42 L257.00 83.09 L257.50 81.74 L258.00 80.38 L258.50 79.01 L259.00 77.63 L259.50 76.24 L260.00 74.84 L260.50 73.43 L261.00 72.01 L261.50 70.57 L262.00 69.13 L262.50 67.67 L263.00 66.20 L263.50 64.72 L264.00 63.23 L264.50 61.73 L265.00 60.21 L265.50 58.68 L266.00 57.15 L266.50 55.60 L267.00 54.03 L267.50 52.46 L268.00 50.87 L268.50 49.28 L269.00 47.67 L269.42 46.30" stroke="#ff1414"/>
<path d="M68.50 208.50 L69.00 208.50 L69.50 208.50 L70.00 208.50 L70.50 208.50 L71.00 208.50 L71.50 208.50 L72.00 208.50 L72.50 208.50 L73.00 208.50 L73.50 208.50 L74.00 208.50 L74.50 208.50 L75.00 208.50 L75.50 208.50 L76.00 208.50 L76.50 208.50 L77.00 208.50 L77.50 208.50 L78.00 208.50 L78.50 208.50 L79.00 208.50 L79.50 208.50 L80.00 208.50 L80.50 208.50 L81.00 208.50 L81.50 208.50 L82.00 208.50 L82.50 208.50 L83.00 208.50 L83.50 208.50 L84.00 208.50 L84.50 208.50 L85.00 208.49 L85.50 208.49 L86.00 208.49 L86.50 208.49 L87.00 208.49 L87.50 208.49 L88.00 208.49 L88.50 208.49 L89.00 208.49 L89.50 208.49 L90.00 208.48 L90.50 208.48 L91.00 208.48 L91.50 208.48 L92.00 208.48 L92.50 208.47 L93.00 208.47 L93.50 208.47 L94.00 208.47 L94.50 208.46 L95.00 208.46 L95.50 208.46 L96.00 208.46 L96.50 208.45 L97.00 208.45 L97.50 208.44 L98.00 208.44 L98.50 208.44 L99.00 208.43 L99.50 208.43 L100.00 208.42 L100.50 208.42 L101.00 208.41 L101.50 208.40 L102.00 208.40 L102.50 208.39 L103.00 208.39 L103.50 208.38 L104.00 208.37 L104.50 208.36 L105.00 208.36 L105.50 208.35 L106.00 208.34 L106.50 208.33 L107.00 208.32 L107.50 208.31 L108.00 208.30 L108.50 208.29 L109.00 208.28 L109.50 208.27 L110.00 208.26 L110.50 208.24 L111.00 208.23 L111.50 208.22 L112.00 208.21 L112.50 208.19 L113.00 208.18 L113.50 208.16 L114.00 208.15 L114.50 208.13 L115.00 208.11 L115.50 208.10 L116.00 208.08 L116.50 208.06 L117.00 208.04 L117.50 208.02 L118.00 208.00 L118.50 207.98 L119.00 207.96 L119.50 207.94 L120.00 207.91 L120.50 207.89 L121.00 207.87 L121.50 207.84 L122.00 207.82 L122.50 207.79 L123.00 207.76 L123.50 207.74 L124.00 207.71 L124.50 207.68 L125.00 207.65 L125.50 207.62 L126.00 207.58 L126.50 207.55 L127.00 207.52 L127.50 207.48 L128.00 207.45 L128.50 207.41 L129.00 207.37 L129.50 207.34 L130.00 207.30 L130.50 207.26 L131.00 207.22 L131.50 207.17 L132.00 207.13 L132.50 207.09 L133.00 207.04 L133.50 207.00 L134.00 206.95 L134.50 206.90 L135.00 206.85 L135.50 206.80 L136.00 206.75 L136.50 206.69 L137.00 206.64 L137.50 206.58 L138.00 206.53 L138.50 206.47 L139.00 206.41 L139.50 206.35 L140.00 206.29 L140.50 206.22 L141.00 206.16 L141.50 206.09 L142.00 206.03 L142.50 205.96 L143.00 205.89 L143.50 205.82 L144.00 205.74 L144.50 205.67 L145.00 205.59 L145.50 205.52 L146.00 205.44 L146.50 205.36 L147.00 205.27 L147.50 205.19 L148.00 205.10 L148.50 205.02 L149.00 204.93 L149.50 204.84 L150.00 204.75 L150.50 204.65 L151.00 204.56 L151.50 204.46 L152.00 204.36 L152.50 204.26 L153.00 204.16 L153.50 204.05 L154.00 203.95 L154.50 203.84 L155.00 203.73 L155.50 203.62 L156.00 203.50 L156.50 203.39 L157.00 203.27 L157.50 203.15 L158.00 203.02 L158.50 202.90 L159.00 202.77 L159.50 202.65 L160.00 202.51 L160.50 202.38 L161.00 202.25 L161.50 202.11 L162.00 201.97 L162.50 201.83 L163.00 201.68 L163.50 201.54 L164.00 201.39 L164.50 201.24 L165.00 201.08 L165.50 200.93 L166.00 200.77 L166.50 200.61 L167.00 200.44 L167.50 200.28 L168.00 200.11 L168.50 199.94 L169.00 199.76 L169.50 199.59 L170.00 199.41 L170.50 199.23 L171.00 199.04 L171.50 198.86 L172.00 198.67 L172.50 198.47 L173.00 198.28 L173.50 198.08 L174.00 197.88 L174.50 197.67 L175.00 197.47 L175.50 197.26 L176.00 197.04 L176.50 196.83 L177.00 196.61 L177.50 196.39 L178.00 196.16 L178.50 195.93 L179.00 195.70 L179.50 195.47 L180.00 195.23 L180.50 194.99 L181.00 194.74 L181.50 194.50 L182.00 194.25 L182.50 193.99 L183.00 193.73 L183.50 193.47 L184.00 193.21 L184.50 192.94 L185.00 192.67 L185.50 192.39 L186.00 192.11 L186.50 191.83 L187.00 191.55 L187.50 191.26 L188.00 190.96 L188.50 190.67 L189.00 190.37 L189.50 190.06 L190.00 189.75 L190.50 189.44 L191.00 189.12 L191.50 188.80 L192.00 188.48 L192.50 188.15 L193.00 187.82 L193.50 187.48 L194.00 187.14 L194.50 186.80 L195.00 186.45 L195.50 186.10 L196.00 185.74 L196.50 185.38 L197.00 185.02 L197.50 184.65 L198.00 184.27 L198.50 183.89 L199.00 183.51 L199.50 183.12 L200.00 182.73 L200.50 182.34 L201.00 181.94 L201.50 181.53 L202.00 181.12 L202.50 180.71 L203.00 180.29 L203.50 179.86 L204.00 179.43 L204.50 179.00 L205.00 178.56 L205.50 178.12 L206.00 177.67 L206.50 177.22 L207.00 176.76 L207.50 176.30 L208.00 175.83 L208.50 175.35 L209.00 174.88 L209.50 174.39 L210.00 173.90 L210.50 173.41 L211.00 172.91 L211.50 172.41 L212.00 171.90 L212.50 171.38 L213.00 170.86 L213.50 170.34 L214.00 169.80 L214.50 169.27 L215.00 168.72 L215.50 168.18 L216.00 167.62 L216.50 167.06 L217.00 166.50 L217.50 165.93 L218.00 165.35 L218.50 164.77 L219.00 164.18 L219.50 163.58 L220.00 162.98 L220.50 162.38 L221.00 161.76 L221.50 161.14 L222.00 160.52 L222.50 159.89 L223.00 159.25 L223.50 158.61 L224.00 157.96 L224.50 157.30 L225.00 156.64 L225.50 155.97 L226.00 155.30 L226.50 154.61 L227.00 153.93 L227.50 153.23 L228.00 152.53 L228.50 151.82 L229.00 151.11 L229.50 150.39 L230.00 149.66 L230.50 148.92 L231.00 148.18 L231.50 147.43 L232.00 146.68 L232.50 145.91 L233.00 145.14 L233.50 144.37 L234.00 143.58 L234.50 142.79 L235.00 141.99 L235.50 141.19 L236.00 140.38 L236.50 139.55 L237.00 138.73 L237.50 137.89 L238.00 137.05 L238.50 136.20 L239.00 135.34 L239.50 134.48 L240.00 133.60 L240.50 132.72 L241.00 131.83 L241.50 130.94 L242.00 130.03 L242.50 129.12 L243.00 128.20 L243.50 127.28 L244.00 126.34 L244.50 125.40 L245.00 124.44 L245.50 123.48 L246.00 122.52 L246.50 121.54 L247.00 120.55 L247.50 119.56 L248.00 118.56 L248.50 117.55 L249.00 116.53 L249.50 115.50 L250.00 114.47 L250.50 113.42 L251.00 112.37 L251.50 111.31 L252.00 110.24 L252.50 109.16 L253.00 108.07 L253.50 106.98 L254.00 105.87 L254.50 104.75 L255.00 103.63 L255.50 102.50 L256.00 101.36 L256.50 100.20 L257.00 99.04 L257.50 97.87 L258.00 96.69 L258.50 95.51 L259.00 94.31 L259.50 93.10 L260.00 91.88 L260.50 90.66 L261.00 89.42 L261.50 88.17 L262.00 86.92 L262.50 85.65 L263.00 84.38 L263.50 83.09 L264.00 81.79 L264.50 80.49 L265.00 79.17 L265.50 77.85 L266.00 76.51 L266.50 75.17 L267.00 73.81 L267.50 72.44 L268.00 71.07 L268.50 69.68 L269.00 68.28 L269.50 66.87 L270.00 65.45 L270.50 64.02 L271.00 62.58 L271.50 61.13 L272.00 59.67 L272.50 58.20 L273.00 56.71 L273.50 55.22 L274.00 53.71 L274.50 52.20 L275.00 50.67 L275.50 49.13 L276.00 47.58 L276.41 46.30" stroke="#ff1414" stroke-dasharray="6.75 6.75"/>
<path d="M68.00 208.50 L68.50 208.50 L69.00 208.50 L69.50 208.50 L70.00 208.50 L70.50 208.50 L71.00 208.50 L71.50 208.50 L72.00 208.50 L72.50 208.50 L73.00 208.50 L73.50 208.50 L74.00 208.50 L74.50 208.50 L75.00 208.50 L75.50 208.50 L76.00 208.50 L76.50 208.50 L77.00 208.50 L77.50 208.50 L78.00 208.50 L78.50 208.50 L79.00 208.50 L79.50 208.50 L80.00 208.50 L80.50 208.50 L81.00 208.50 L81.50 208.50 L82.00 208.50 L82.50 208.50 L83.00 208.50 L83.50 208.50 L84.00 208.50 L84.50 208.50 L85.00 208.50 L85.50 208.50 L86.00 208.50 L86.50 208.50 L87.00 208.50 L87.50 208.50 L88.00 208.50 L88.50 208.50 L89.00 208.49 L89.50 208.49 L90.00 208.49 L90.50 208.49 L91.00 208.49 L91.50 208.49 L92.00 208.49 L92.50 208.49 L93.00 208.49 L93.50 208.48 L94.00 208.48 L94.50 208.48 L95.00 208.48 L95.50 208.48 L96.00 208.48 L96.50 208.47 L97.00 208.47 L97.50 208.47 L98.00 208.47 L98.50 208.46 L99.00 208.46 L99.50 208.46 L100.00 208.45 L100.50 208.45 L101.00 208.45 L101.50 208.44 L102.00 208.44 L102.50 208.44 L103.00 208.43 L103.50 208.43 L104.00 208.42 L104.50 208.42 L105.00 208.41 L105.50 208.41 L106.00 208.40 L106.50 208.39 L107.00 208.39 L107.50 208.38 L108.00 208.38 L108.50 208.37 L109.00 208.36 L109.50 208.35 L110.00 208.35 L110.50 208.34 L111.00 208.33 L111.50 208.32 L112.00 208.31 L112.50 208.30 L113.00 208.29 L113.50 208.28 L114.00 208.27 L114.50 208.26 L115.00 208.25 L115.50 208.24 L116.00 208.22 L116.50 208.21 L117.00 208.20 L117.50 208.18 L118.00 208.17 L118.50 208.16 L119.00 208.14 L119.50 208.13 L120.00 208.11 L120.50 208.09 L121.00 208.08 L121.50 208.06 L122.00 208.04 L122.50 208.02 L123.00 208.00 L123.50 207.98 L124.00 207.96 L124.50 207.94 L125.00 207.92 L125.50 207.90 L126.00 207.88 L126.50 207.86 L127.00 207.83 L127.50 207.81 L128.00 207.78 L128.50 207.76 L129.00 207.73 L129.50 207.70 L130.00 207.67 L130.50 207.65 L131.00 207.62 L131.50 207.59 L132.00 207.56 L132.50 207.53 L133.00 207.49 L133.50 207.46 L134.00 207.43 L134.50 207.39 L135.00 207.36 L135.50 207.32 L136.00 207.28 L136.50 207.24 L137.00 207.21 L137.50 207.17 L138.00 207.12 L138.50 207.08 L139.00 207.04 L139.50 207.00 L140.00 206.95 L140.50 206.91 L141.00 206.86 L141.50 206.81 L142.00 206.76 L142.50 206.71 L143.00 206.66 L143.50 206.61 L144.00 206.56 L144.50 206.51 L145.00 206.45 L145.50 206.39 L146.00 206.34 L146.50 206.28 L147.00 206.22 L147.50 206.16 L148.00 206.10 L148.50 206.03 L149.00 205.97 L149.50 205.90 L150.00 205.84 L150.50 205.77 L151.00 205.70 L151.50 205.63 L152.00 205.55 L152.50 205.48 L153.00 205.41 L153.50 205.33 L154.00 205.25 L154.50 205.17 L155.00 205.09 L155.50 205.01 L156.00 204.93 L156.50 204.84 L157.00 204.76 L157.50 204.67 L158.00 204.58 L158.50 204.49 L159.00 204.39 L159.50 204.30 L160.00 204.20 L160.50 204.11 L161.00 204.01 L161.50 203.91 L162.00 203.80 L162.50 203.70 L163.00 203.59 L163.50 203.49 L164.00 203.38 L164.50 203.26 L165.00 203.15 L165.50 203.04 L166.00 202.92 L166.50 202.80 L167.00 202.68 L167.50 202.56 L168.00 202.43 L168.50 202.31 L169.00 202.18 L169.50 202.05 L170.00 201.92 L170.50 201.78 L171.00 201.65 L171.50 201.51 L172.00 201.37 L172.50 201.23 L173.00 201.08 L173.50 200.94 L174.00 200.79 L174.50 200.64 L175.00 200.48 L175.50 200.33 L176.00 200.17 L176.50 200.01 L177.00 199.85 L177.50 199.68 L178.00 199.52 L178.50 199.35 L179.00 199.18 L179.50 199.00 L180.00 198.83 L180.50 198.65 L181.00 198.47 L181.50 198.28 L182.00 198.10 L182.50 197.91 L183.00 197.72 L183.50 197.52 L184.00 197.32 L184.50 197.13 L185.00 196.92 L185.50 196.72 L186.00 196.51 L186.50 196.30 L187.00 196.09 L187.50 195.87 L188.00 195.66 L188.50 195.43 L189.00 195.21 L189.50 194.98 L190.00 194.75 L190.50 194.52 L191.00 194.29 L191.50 194.05 L192.00 193.81 L192.50 193.56 L193.00 193.32 L193.50 193.06 L194.00 192.81 L194.50 192.55 L195.00 192.29 L195.50 192.03 L196.00 191.77 L196.50 191.50 L197.00 191.22 L197.50 190.95 L198.00 190.67 L198.50 190.39 L199.00 190.10 L199.50 189.81 L200.00 189.52 L200.50 189.22 L201.00 188.92 L201.50 188.62 L202.00 188.31 L202.50 188.00 L203.00 187.69 L203.50 187.37 L204.00 187.05 L204.50 186.73 L205.00 186.40 L205.50 186.07 L206.00 185.73 L206.50 185.39 L207.00 185.05 L207.50 184.70 L208.00 184.35 L208.50 184.00 L209.00 183.64 L209.50 183.28 L210.00 182.91 L210.50 182.54 L211.00 182.17 L211.50 181.79 L212.00 181.41 L212.50 181.02 L213.00 180.63 L213.50 180.24 L214.00 179.84 L214.50 179.43 L215.00 179.03 L215.50 178.62 L216.00 178.20 L216.50 177.78 L217.00 177.36 L217.50 176.93 L218.00 176.49 L218.50 176.06 L219.00 175.61 L219.50 175.17 L220.00 174.72 L220.50 174.26 L221.00 173.80 L221.50 173.34 L222.00 172.87 L222.50 172.39 L223.00 171.91 L223.50 171.43 L224.00 170.94 L224.50 170.45 L225.00 169.95 L225.50 169.45 L226.00 168.94 L226.50 168.43 L227.00 167.91 L227.50 167.39 L228.00 166.86 L228.50 166.32 L229.00 165.79 L229.50 165.24 L230.00 164.70 L230.50 164.14 L231.00 163.58 L231.50 163.02 L232.00 162.45 L232.50 161.88 L233.00 161.30 L233.50 160.71 L234.00 160.12 L234.50 159.52 L235.00 158.92 L235.50 158.31 L236.00 157.70 L236.50 157.08 L237.00 156.46 L237.50 155.83 L238.00 155.19 L238.50 154.55 L239.00 153.91 L239.50 153.25 L240.00 152.60 L240.50 151.93 L241.00 151.26 L241.50 150.59 L242.00 149.90 L242.50 149.21 L243.00 148.52 L243.50 147.82 L244.00 147.11 L244.50 146.40 L245.00 145.68 L245.50 144.96 L246.00 144.23 L246.50 143.49 L247.00 142.75 L247.50 142.00 L248.00 141.24 L248.50 140.48 L249.00 139.71 L249.50 138.93 L250.00 138.15 L250.50 137.36 L251.00 136.56 L251.50 135.76 L252.00 134.95 L252.50 134.14 L253.00 133.31 L253.50 132.49 L254.00 131.65 L254.50 130.81 L255.00 129.96 L255.50 129.10 L256.00 128.24 L256.50 127.36 L257.00 126.49 L257.50 125.60 L258.00 124.71 L258.50 123.81 L259.00 122.90 L259.50 121.99 L260.00 121.07 L260.50 120.14 L261.00 119.20 L261.50 118.26 L262.00 117.31 L262.50 116.35 L263.00 115.39 L263.50 114.41 L264.00 113.43 L264.50 112.44 L265.00 111.45 L265.50 110.44 L266.00 109.43 L266.50 108.41 L267.00 107.38 L267.50 106.35 L268.00 105.31 L268.50 104.26 L269.00 103.20 L269.50 102.13 L270.00 101.05 L270.50 99.97 L271.00 98.88 L271.50 97.78 L272.00 96.67 L272.50 95.55 L273.00 94.43 L273.50 93.30 L274.00 92.15 L274.50 91.00 L275.00 89.85 L275.50 88.68 L276.00 87.50 L276.50 86.32 L277.00 85.13 L277.50 83.93 L278.00 82.71 L278.22 82.17 M281.79 73.25 L282.00 72.71 L282.50 71.42 L283.00 70.12 L283.50 68.81 L284.00 67.49 L284.50 66.16 L285.00 64.83 L285.50 63.48 L286.00 62.12 L286.50 60.76 L287.00 59.38 L287.50 58.00 L288.00 56.60 L288.50 55.20 L289.00 53.79 L289.50 52.36 L290.00 50.93 L290.50 49.49 L291.00 48.03 L291.50 46.57 L291.59 46.30" stroke="#ff1414" stroke-dasharray="1.2 6.65 6.7 6.65"/>
<path d="M68.00 208.50 L68.50 208.50 L69.00 208.50 L69.50 208.50 L70.00 208.50 L70.50 208.50 L71.00 208.50 L71.50 208.50 L72.00 208.50 L72.50 208.50 L73.00 208.50 L73.50 208.49 L74.00 208.49 L74.50 208.49 L75.00 208.49 L75.50 208.49 L76.00 208.49 L76.50 208.48 L77.00 208.48 L77.50 208.48 L78.00 208.47 L78.50 208.47 L79.00 208.46 L79.50 208.46 L80.00 208.45 L80.50 208.45 L81.00 208.44 L81.50 208.43 L82.00 208.43 L82.50 208.42 L83.00 208.41 L83.50 208.40 L84.00 208.39 L84.50 208.38 L85.00 208.37 L85.50 208.36 L86.00 208.34 L86.50 208.33 L87.00 208.32 L87.50 208.30 L88.00 208.29 L88.50 208.27 L89.00 208.25 L89.50 208.23 L90.00 208.21 L90.50 208.19 L91.00 208.17 L91.50 208.15 L92.00 208.13 L92.50 208.10 L93.00 208.08 L93.50 208.05 L94.00 208.03 L94.50 208.00 L95.00 207.97 L95.50 207.94 L96.00 207.90 L96.50 207.87 L97.00 207.84 L97.50 207.80 L98.00 207.76 L98.50 207.72 L99.00 207.68 L99.50 207.64 L100.00 207.60 L100.50 207.55 L101.00 207.51 L101.50 207.46 L102.00 207.41 L102.50 207.36 L103.00 207.31 L103.50 207.25 L104.00 207.20 L104.50 207.14 L105.00 207.08 L105.50 207.02 L106.00 206.96 L106.50 206.89 L107.00 206.83 L107.50 206.76 L108.00 206.69 L108.50 206.62 L109.00 206.54 L109.50 206.46 L110.00 206.39 L110.50 206.31 L111.00 206.22 L111.50 206.14 L112.00 206.05 L112.50 205.96 L113.00 205.87 L113.50 205.78 L114.00 205.68 L114.50 205.58 L115.00 205.48 L115.50 205.38 L116.00 205.27 L116.50 205.16 L117.00 205.05 L117.50 204.94 L118.00 204.82 L118.50 204.70 L119.00 204.58 L119.50 204.46 L120.00 204.33 L120.50 204.20 L121.00 204.07 L121.50 203.93 L122.00 203.79 L122.50 203.65 L123.00 203.51 L123.50 203.36 L124.00 203.21 L124.50 203.05 L125.00 202.90 L125.50 202.74 L126.00 202.57 L126.50 202.41 L127.00 202.24 L127.50 202.06 L128.00 201.89 L128.50 201.71 L129.00 201.52 L129.50 201.34 L130.00 201.15 L130.50 200.95 L131.00 200.75 L131.50 200.55 L132.00 200.35 L132.50 200.14 L133.00 199.93 L133.50 199.71 L134.00 199.49 L134.50 199.27 L135.00 199.04 L135.50 198.80 L136.00 198.57 L136.50 198.33 L137.00 198.08 L137.50 197.83 L138.00 197.58 L138.50 197.32 L139.00 197.06 L139.50 196.80 L140.00 196.53 L140.50 196.25 L141.00 195.97 L141.50 195.69 L142.00 195.40 L142.50 195.11 L143.00 194.81 L143.50 194.51 L144.00 194.20 L144.50 193.89 L145.00 193.57 L145.50 193.25 L146.00 192.92 L146.50 192.59 L147.00 192.25 L147.50 191.91 L148.00 191.57 L148.50 191.21 L149.00 190.86 L149.50 190.49 L150.00 190.12 L150.50 189.75 L151.00 189.37 L151.50 188.99 L152.00 188.60 L152.50 188.20 L153.00 187.80 L153.50 187.39 L154.00 186.98 L154.50 186.56 L155.00 186.14 L155.50 185.71 L156.00 185.27 L156.50 184.83 L157.00 184.38 L157.50 183.93 L158.00 183.47 L158.50 183.00 L159.00 182.53 L159.50 182.05 L160.00 181.57 L160.50 181.07 L161.00 180.58 L161.50 180.07 L162.00 179.56 L162.50 179.04 L163.00 178.52 L163.50 177.99 L164.00 177.45 L164.50 176.90 L165.00 176.35 L165.50 175.79 L166.00 175.23 L166.50 174.65 L167.00 174.07 L167.50 173.49 L168.00 172.89 L168.50 172.29 L169.00 171.68 L169.50 171.07 L170.00 170.44 L170.50 169.81 L171.00 169.17 L171.50 168.53 L172.00 167.87 L172.50 167.21 L173.00 166.54 L173.50 165.86 L174.00 165.18 L174.50 164.48 L175.00 163.78 L175.50 163.07 L176.00 162.36 L176.50 161.63 L177.00 160.90 L177.50 160.15 L178.00 159.40 L178.50 158.64 L179.00 157.88 L179.50 157.10 L180.00 156.31 L180.50 155.52 L181.00 154.72 L181.50 153.91 L182.00 153.09 L182.50 152.26 L183.00 151.42 L183.50 150.57 L184.00 149.72 L184.50 148.85 L185.00 147.98 L185.50 147.10 L186.00 146.20 L186.50 145.30 L187.00 144.39 L187.50 143.47 L188.00 142.54 L188.50 141.60 L189.00 140.65 L189.50 139.68 L190.00 138.71 L190.50 137.73 L191.00 136.74 L191.50 135.74 L192.00 134.73 L192.50 133.71 L193.00 132.68 L193.50 131.64 L194.00 130.59 L194.50 129.53 L195.00 128.46 L195.50 127.37 L196.00 126.28 L196.50 125.18 L197.00 124.06 L197.50 122.93 L198.00 121.80 L198.50 120.65 L199.00 119.49 L199.50 118.32 L200.00 117.14 L200.50 115.95 L201.00 114.74 L201.50 113.53 L202.00 112.30 L202.50 111.06 L203.00 109.81 L203.50 108.55 L204.00 107.28 L204.50 105.99 L205.00 104.70 L205.50 103.39 L206.00 102.07 L206.50 100.73 L207.00 99.39 L207.50 98.03 L208.00 96.66 L208.50 95.28 L209.00 93.88 L209.50 92.48 L210.00 91.06 L210.50 89.62 L211.00 88.18 L211.50 86.72 L212.00 85.25 L212.50 83.77 L213.00 82.27 L213.50 80.76 L214.00 79.23 L214.50 77.70 L215.00 76.15 L215.50 74.58 L216.00 73.01 L216.50 71.42 L217.00 69.81 L217.50 68.20 L218.00 66.56 L218.50 64.92 L219.00 63.26 L219.50 61.59 L220.00 59.90 L220.50 58.20 L221.00 56.48 L221.50 54.75 L222.00 53.01 L222.50 51.25 L223.00 49.47 L223.50 47.69 L223.88 46.30" stroke="#3018ff"/>
<path d="M68.50 208.50 L69.00 208.50 L69.50 208.50 L70.00 208.50 L70.50 208.50 L71.00 208.50 L71.50 208.50 L72.00 208.50 L72.50 208.50 L73.00 208.50 L73.50 208.49 L74.00 208.49 L74.50 208.49 L75.00 208.49 L75.50 208.49 L76.00 208.49 L76.50 208.48 L77.00 208.48 L77.50 208.48 L78.00 208.47 L78.50 208.47 L79.00 208.46 L79.50 208.46 L80.00 208.45 L80.50 208.45 L81.00 208.44 L81.50 208.43 L82.00 208.43 L82.50 208.42 L83.00 208.41 L83.50 208.40 L84.00 208.39 L84.50 208.38 L85.00 208.37 L85.50 208.36 L86.00 208.35 L86.50 208.33 L87.00 208.32 L87.50 208.30 L88.00 208.29 L88.50 208.27 L89.00 208.26 L89.50 208.24 L90.00 208.22 L90.50 208.20 L91.00 208.18 L91.50 208.16 L92.00 208.13 L92.50 208.11 L93.00 208.08 L93.50 208.06 L94.00 208.03 L94.50 208.00 L95.00 207.98 L95.50 207.95 L96.00 207.91 L96.50 207.88 L97.00 207.85 L97.50 207.81 L98.00 207.78 L98.50 207.74 L99.00 207.70 L99.50 207.66 L100.00 207.62 L100.50 207.57 L101.00 207.53 L101.50 207.48 L102.00 207.44 L102.50 207.39 L103.00 207.34 L103.50 207.28 L104.00 207.23 L104.50 207.17 L105.00 207.12 L105.50 207.06 L106.00 207.00 L106.50 206.93 L107.00 206.87 L107.50 206.80 L108.00 206.74 L108.50 206.67 L109.00 206.60 L109.50 206.52 L110.00 206.45 L110.50 206.37 L111.00 206.29 L111.50 206.21 L112.00 206.12 L112.50 206.04 L113.00 205.95 L113.50 205.86 L114.00 205.77 L114.50 205.67 L115.00 205.58 L115.50 205.48 L116.00 205.38 L116.50 205.27 L117.00 205.17 L117.50 205.06 L118.00 204.95 L118.50 204.83 L119.00 204.72 L119.50 204.60 L120.00 204.48 L120.50 204.35 L121.00 204.23 L121.50 204.10 L122.00 203.97 L122.50 203.83 L123.00 203.69 L123.50 203.55 L124.00 203.41 L124.50 203.26 L125.00 203.12 L125.50 202.96 L126.00 202.81 L126.50 202.65 L127.00 202.49 L127.50 202.33 L128.00 202.16 L128.50 201.99 L129.00 201.81 L129.50 201.64 L130.00 201.46 L130.50 201.27 L131.00 201.09 L131.50 200.90 L132.00 200.70 L132.50 200.50 L133.00 200.30 L133.50 200.10 L134.00 199.89 L134.50 199.68 L135.00 199.46 L135.50 199.25 L136.00 199.02 L136.50 198.80 L137.00 198.57 L137.50 198.33 L138.00 198.09 L138.50 197.85 L139.00 197.61 L139.50 197.36 L140.00 197.10 L140.50 196.84 L141.00 196.58 L141.50 196.32 L142.00 196.04 L142.50 195.77 L143.00 195.49 L143.50 195.21 L144.00 194.92 L144.50 194.63 L145.00 194.33 L145.50 194.03 L146.00 193.72 L146.50 193.41 L147.00 193.10 L147.50 192.78 L148.00 192.45 L148.50 192.12 L149.00 191.79 L149.50 191.45 L150.00 191.11 L150.50 190.76 L151.00 190.41 L151.50 190.05 L152.00 189.68 L152.50 189.32 L153.00 188.94 L153.50 188.56 L154.00 188.18 L154.50 187.79 L155.00 187.39 L155.50 186.99 L156.00 186.59 L156.50 186.18 L157.00 185.76 L157.50 185.34 L158.00 184.91 L158.50 184.48 L159.00 184.04 L159.50 183.59 L160.00 183.14 L160.50 182.69 L161.00 182.22 L161.50 181.76 L162.00 181.28 L162.50 180.80 L163.00 180.32 L163.50 179.82 L164.00 179.33 L164.50 178.82 L165.00 178.31 L165.50 177.79 L166.00 177.27 L166.50 176.74 L167.00 176.20 L167.50 175.66 L168.00 175.11 L168.50 174.56 L169.00 173.99 L169.50 173.43 L170.00 172.85 L170.50 172.27 L171.00 171.68 L171.50 171.08 L172.00 170.48 L172.50 169.87 L173.00 169.25 L173.50 168.63 L174.00 167.99 L174.50 167.36 L175.00 166.71 L175.50 166.06 L176.00 165.40 L176.50 164.73 L177.00 164.05 L177.50 163.37 L178.00 162.68 L178.50 161.98 L179.00 161.28 L179.50 160.56 L180.00 159.84 L180.50 159.11 L181.00 158.38 L181.50 157.63 L182.00 156.88 L182.50 156.12 L183.00 155.35 L183.50 154.58 L184.00 153.79 L184.50 153.00 L185.00 152.20 L185.50 151.39 L186.00 150.57 L186.50 149.74 L187.00 148.91 L187.50 148.06 L188.00 147.21 L188.50 146.35 L189.00 145.48 L189.50 144.60 L190.00 143.72 L190.50 142.82 L191.00 141.91 L191.50 141.00 L192.00 140.08 L192.50 139.14 L193.00 138.20 L193.50 137.25 L194.00 136.29 L194.50 135.32 L195.00 134.35 L195.50 133.36 L196.00 132.36 L196.50 131.35 L197.00 130.34 L197.50 129.31 L198.00 128.27 L198.50 127.23 L199.00 126.17 L199.50 125.11 L200.00 124.03 L200.50 122.94 L201.00 121.85 L201.50 120.74 L202.00 119.63 L202.50 118.50 L203.00 117.36 L203.50 116.22 L204.00 115.06 L204.50 113.89 L205.00 112.71 L205.50 111.52 L206.00 110.32 L206.50 109.11 L207.00 107.89 L207.50 106.66 L208.00 105.41 L208.50 104.16 L209.00 102.89 L209.50 101.62 L210.00 100.33 L210.50 99.03 L211.00 97.72 L211.50 96.40 L212.00 95.06 L212.50 93.72 L213.00 92.36 L213.50 90.99 L213.99 89.64 M213.99 89.64 L214.00 89.61 L214.50 88.22 L215.00 86.82 L215.50 85.40 L216.00 83.98 L216.50 82.54 L217.00 81.09 L217.50 79.62 L218.00 78.15 L218.50 76.66 L219.00 75.16 L219.50 73.65 L220.00 72.12 L220.50 70.58 L221.00 69.03 L221.50 67.47 L222.00 65.89 L222.50 64.31 L223.00 62.70 L223.50 61.09 L224.00 59.46 L224.50 57.82 L225.00 56.17 L225.50 54.50 L226.00 52.82 L226.50 51.13 L227.00 49.42 L227.50 47.70 L227.90 46.30" stroke="#3018ff" stroke-dasharray="6.7 6.7"/>
<path d="M68.00 208.50 L68.50 208.50 L69.00 208.50 L69.50 208.50 L70.00 208.50 L70.50 208.50 L71.00 208.50 L71.50 208.50 L72.00 208.50 L72.50 208.50 L73.00 208.50 L73.50 208.50 L74.00 208.49 L74.50 208.49 L75.00 208.49 L75.50 208.49 L76.00 208.49 L76.50 208.49 L77.00 208.48 L77.50 208.48 L78.00 208.48 L78.50 208.47 L79.00 208.47 L79.50 208.47 L80.00 208.46 L80.50 208.46 L81.00 208.45 L81.50 208.45 L82.00 208.44 L82.50 208.43 L83.00 208.43 L83.50 208.42 L84.00 208.41 L84.50 208.40 L85.00 208.40 L85.50 208.39 L86.00 208.38 L86.50 208.37 L87.00 208.35 L87.50 208.34 L88.00 208.33 L88.50 208.32 L89.00 208.30 L89.50 208.29 L90.00 208.27 L90.50 208.26 L91.00 208.24 L91.50 208.22 L92.00 208.20 L92.50 208.18 L93.00 208.16 L93.50 208.14 L94.00 208.12 L94.50 208.10 L95.00 208.08 L95.50 208.05 L96.00 208.03 L96.50 208.00 L97.00 207.97 L97.50 207.94 L98.00 207.91 L98.50 207.88 L99.00 207.85 L99.50 207.82 L100.00 207.78 L100.50 207.75 L101.00 207.71 L101.50 207.67 L102.00 207.64 L102.50 207.60 L103.00 207.55 L103.50 207.51 L104.00 207.47 L104.50 207.42 L105.00 207.38 L105.50 207.33 L106.00 207.28 L106.50 207.23 L107.00 207.17 L107.50 207.12 L108.00 207.06 L108.50 207.01 L109.00 206.95 L109.50 206.89 L110.00 206.83 L110.50 206.76 L111.00 206.70 L111.50 206.63 L112.00 206.56 L112.50 206.49 L113.00 206.42 L113.50 206.35 L114.00 206.27 L114.50 206.19 L115.00 206.11 L115.50 206.03 L116.00 205.95 L116.50 205.86 L117.00 205.78 L117.50 205.69 L118.00 205.59 L118.50 205.50 L119.00 205.41 L119.50 205.31 L120.00 205.21 L120.50 205.11 L121.00 205.00 L121.50 204.89 L122.00 204.79 L122.50 204.67 L123.00 204.56 L123.50 204.45 L124.00 204.33 L124.50 204.21 L125.00 204.08 L125.50 203.96 L126.00 203.83 L126.50 203.70 L127.00 203.56 L127.50 203.43 L128.00 203.29 L128.50 203.15 L129.00 203.01 L129.50 202.86 L130.00 202.71 L130.50 202.56 L131.00 202.40 L131.50 202.24 L132.00 202.08 L132.50 201.92 L133.00 201.75 L133.50 201.58 L134.00 201.41 L134.50 201.24 L135.00 201.06 L135.50 200.87 L136.00 200.69 L136.50 200.50 L137.00 200.31 L137.50 200.12 L138.00 199.92 L138.50 199.72 L139.00 199.51 L139.50 199.30 L140.00 199.09 L140.50 198.88 L141.00 198.66 L141.50 198.44 L142.00 198.21 L142.50 197.98 L143.00 197.75 L143.50 197.51 L144.00 197.27 L144.50 197.03 L145.00 196.78 L145.50 196.53 L146.00 196.27 L146.50 196.02 L147.00 195.75 L147.50 195.49 L148.00 195.22 L148.50 194.94 L149.00 194.66 L149.50 194.38 L150.00 194.09 L150.50 193.80 L151.00 193.50 L151.50 193.20 L152.00 192.90 L152.50 192.59 L153.00 192.28 L153.50 191.96 L154.00 191.64 L154.50 191.31 L155.00 190.98 L155.50 190.65 L156.00 190.31 L156.50 189.96 L157.00 189.61 L157.50 189.26 L158.00 188.90 L158.50 188.54 L159.00 188.17 L159.50 187.80 L160.00 187.42 L160.50 187.04 L161.00 186.65 L161.50 186.25 L162.00 185.86 L162.50 185.45 L163.00 185.05 L163.50 184.63 L164.00 184.21 L164.50 183.79 L165.00 183.36 L165.50 182.92 L166.00 182.48 L166.50 182.04 L167.00 181.59 L167.50 181.13 L168.00 180.67 L168.50 180.20 L169.00 179.73 L169.50 179.25 L170.00 178.76 L170.50 178.27 L171.00 177.78 L171.50 177.27 L172.00 176.77 L172.50 176.25 L173.00 175.73 L173.50 175.21 L174.00 174.67 L174.50 174.13 L175.00 173.59 L175.50 173.04 L176.00 172.48 L176.50 171.92 L177.00 171.35 L177.50 170.77 L178.00 170.19 L178.50 169.60 L179.00 169.00 L179.50 168.40 L180.00 167.79 L180.50 167.18 L181.00 166.55 L181.50 165.93 L182.00 165.29 L182.50 164.65 L183.00 164.00 L183.50 163.34 L184.00 162.68 L184.50 162.01 L185.00 161.33 L185.50 160.64 L186.00 159.95 L186.50 159.25 L187.00 158.54 L187.50 157.83 L188.00 157.11 L188.50 156.38 L189.00 155.64 L189.50 154.90 L190.00 154.15 L190.50 153.39 L191.00 152.62 L191.50 151.85 L192.00 151.06 L192.50 150.27 L193.00 149.47 L193.50 148.67 L194.00 147.85 L194.50 147.03 L195.00 146.20 L195.50 145.36 L196.00 144.52 L196.50 143.66 L197.00 142.80 L197.50 141.93 L198.00 141.05 L198.50 140.16 L199.00 139.26 L199.50 138.36 L200.00 137.44 L200.50 136.52 L201.00 135.59 L201.50 134.65 L202.00 133.70 L202.50 132.74 L203.00 131.78 L203.50 130.80 L204.00 129.82 L204.50 128.82 L205.00 127.82 L205.50 126.81 L206.00 125.79 L206.50 124.76 L207.00 123.72 L207.50 122.67 L208.00 121.61 L208.50 120.54 L209.00 119.46 L209.50 118.37 L210.00 117.28 L210.50 116.17 L211.00 115.05 L211.50 113.93 L212.00 112.79 L212.50 111.65 L213.00 110.49 L213.50 109.32 L214.00 108.15 L214.50 106.96 L215.00 105.76 L215.50 104.56 L216.00 103.34 L216.50 102.11 L217.00 100.87 L217.50 99.62 L218.00 98.36 L218.50 97.09 L219.00 95.81 L219.50 94.52 L220.00 93.22 L220.50 91.91 L221.00 90.58 L221.50 89.25 L222.00 87.90 L222.50 86.55 L223.00 85.18 L223.50 83.80 L224.00 82.41 L224.50 81.01 L225.00 79.59 L225.50 78.17 L226.00 76.73 L226.50 75.28 L227.00 73.82 L227.31 72.91 M227.31 72.91 L227.50 72.35 L228.00 70.87 L228.50 69.37 L229.00 67.87 L229.50 66.35 L230.00 64.82 L230.50 63.28 L231.00 61.72 L231.50 60.16 L232.00 58.58 L232.50 56.98 L233.00 55.38 L233.50 53.76 L234.00 52.14 L234.50 50.50 L235.00 48.84 L235.50 47.18 L235.76 46.30" stroke="#3018ff" stroke-dasharray="1.2 6.65 6.7 6.65"/>
</g>
<g fill="#000" stroke="#000" stroke-width="0.22" style="will-change:transform">
<text x="315.50" y="119" font-size="16" transform="matrix(1 0 0 1.035 0 -4.165)">q</text>
<text x="325.26" y="119" font-size="16" transform="matrix(1.1 0 0 1.035 -32.526 -4.165)">=</text>
<text x="336.20 345.10" y="119" font-size="16" transform="matrix(1 0 0 1.035 0 -4.165)">0.</text>
<g clip-path="url(#c6)"><text x="349.70" y="119.0" font-size="16" transform="matrix(1 0 0 1.035 0 -4.165)">1</text></g>
<text x="353.70 362.90 367.65" y="142" font-size="16" transform="matrix(1 0 0 1.035 0 -4.970)">0.2</text>
<text x="358.20 367.40 372.20" y="166" font-size="16" transform="matrix(1 0 0 1.035 0 -5.810)">0.3</text>
<text x="137.10" y="154" font-size="16" transform="matrix(1 0 0 1.035 0 -5.390)">m</text>
<text x="150.61" y="154" font-size="16" transform="matrix(1.1 0 0 1.035 -15.061 -5.390)">=</text>
<text x="162.29" y="154" font-size="16" transform="matrix(1.05 0 0 1.035 -8.115 -5.390)">−</text>
<g clip-path="url(#c7)"><text x="172.70" y="154.0" font-size="16" transform="matrix(1 0 0 1.035 0 -5.390)">1</text></g>
<text x="211.05" y="154" font-size="16" transform="matrix(1 0 0 1.035 0 -5.390)">m</text>
<text x="224.46" y="154" font-size="16" transform="matrix(1.1 0 0 1.035 -22.446 -5.390)">=</text>
<text x="235.60" y="154" font-size="16" transform="matrix(1 0 0 1.035 0 -5.390)">0</text>
<text x="304.60" y="154" font-size="16" transform="matrix(1 0 0 1.035 0 -5.390)">m</text>
<text x="318.46" y="154" font-size="16" transform="matrix(1.1 0 0 1.035 -31.846 -5.390)">=</text>
<g clip-path="url(#c8)"><text x="329.10" y="154.0" font-size="16" transform="matrix(1 0 0 1.035 0 -5.390)">1</text></g>
<text x="59.10" y="34" font-size="16.5" transform="matrix(1 0 0 1.035 0 -1.190)">A</text>
<text x="55.20 69.95" y="33" font-size="14.4" transform="matrix(1 0 0 1.035 0 -1.155)">||</text>
<text x="74.60" y="25" font-size="11.8" transform="matrix(1 0 0 1.035 0 -0.875)">2</text>
<text x="167.4" y="38" font-size="17" font-family="Liberation Serif" font-style="italic" stroke-width="0.15">η</text>
<text x="176.59" y="38" font-size="16" transform="matrix(1.0 0 0 1.035 0.000 -1.330)">=</text>
<text x="187.32 197.20" y="38" font-size="16" transform="matrix(1 0 0 1.035 0 -1.330)">0.</text>
<g clip-path="url(#c9)"><text x="201.20" y="38.0" font-size="16" transform="matrix(1 0 0 1.035 0 -1.330)">1</text></g>
<text x="215.57" y="38" font-size="16" transform="matrix(1 0 0 1.035 0 -1.330)">a</text>
<text x="225.23" y="38" font-size="16" transform="matrix(1.0 0 0 1.035 0.000 -1.330)">=</text>
<text x="236.22 246.30" y="38" font-size="16" transform="matrix(1 0 0 1.035 0 -1.330)">0.</text>
<g clip-path="url(#c10)"><text x="249.90" y="38.0" font-size="16" transform="matrix(1 0 0 1.035 0 -1.330)">1</text></g>
<text x="264.37" y="38" font-size="16" transform="matrix(1 0 0 1.035 0 -1.330)">l</text>
<text x="268.03" y="38" font-size="16" transform="matrix(1.0 0 0 1.035 0.000 -1.330)">=</text>
<g clip-path="url(#c11)"><text x="278.20" y="38.0" font-size="16" transform="matrix(1 0 0 1.035 0 -1.330)">1</text></g>
<text x="407.5" y="214" font-size="17" font-family="Liberation Serif" font-style="italic" stroke-width="0.15">ω</text>
<text x="418.90" y="214" font-size="16" transform="matrix(1 0 0 1.035 0 -7.490)">M</text>

</g>
</svg>
</body></html>
